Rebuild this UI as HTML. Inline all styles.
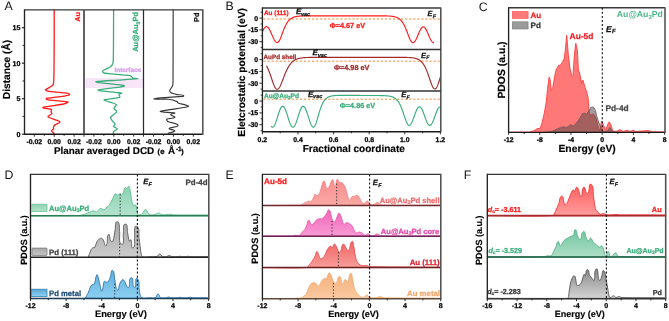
<!DOCTYPE html><html><head><meta charset="utf-8"><style>html,body{margin:0;padding:0;background:#fff;width:669px;height:321px;overflow:hidden}svg{display:block;will-change:transform}text{font-family:"Liberation Sans",sans-serif;text-rendering:geometricPrecision}</style></head><body>
<svg width="669" height="321" viewBox="0 0 669 321">
<rect width="669" height="321" fill="#fff"/>
<text x="4.4" y="10.3" font-size="12.3" font-weight="normal" fill="#111" text-anchor="start" >A</text>
<text x="225.4" y="10.4" font-size="12.3" font-weight="normal" fill="#111" text-anchor="start" >B</text>
<text x="478.7" y="10.6" font-size="12.3" font-weight="normal" fill="#111" text-anchor="start" >C</text>
<text x="4.6" y="178.7" font-size="12.3" font-weight="normal" fill="#111" text-anchor="start" >D</text>
<text x="225.6" y="178.7" font-size="12.3" font-weight="normal" fill="#111" text-anchor="start" >E</text>
<text x="463.8" y="178.7" font-size="12.3" font-weight="normal" fill="#111" text-anchor="start" >F</text>
<rect x="85.2" y="78.0" width="57.6" height="10.0" fill="#f8e5f8"/>
<path d="M54.20,9.50 C54.20,15.60 54.22,33.90 54.20,40.00 C54.18,46.00 54.06,64.00 54.00,70.00 C53.98,72.00 53.89,78.00 53.80,80.00 C53.77,80.80 53.65,83.24 53.40,84.00 C53.24,84.49 52.21,85.69 51.80,86.00 C50.89,86.69 47.88,88.33 46.90,88.90 C46.58,89.09 45.17,89.45 45.30,89.80 C45.49,90.31 47.16,91.02 47.70,91.10 C51.74,91.72 63.98,92.60 68.00,93.30 C68.45,93.38 69.91,94.57 69.60,94.90 C69.03,95.49 66.41,95.68 65.60,95.80 C61.87,96.34 50.62,97.59 46.90,98.20 C46.68,98.24 45.94,98.84 46.10,99.00 C46.46,99.36 48.00,99.73 48.50,99.80 C52.39,100.33 64.14,101.29 68.00,102.00 C68.38,102.07 66.75,102.93 66.40,103.10 C65.92,103.33 64.42,103.91 63.90,104.00 C59.87,104.71 47.73,106.39 43.70,107.10 C43.49,107.14 42.69,107.52 42.80,107.70 C42.99,108.01 44.14,108.33 44.50,108.40 C45.59,108.60 48.92,108.75 50.00,109.00 C50.35,109.08 51.39,109.66 51.50,110.00 C51.63,110.39 50.94,111.59 51.00,112.00 C51.05,112.36 52.20,113.20 52.00,113.50 C51.45,114.33 48.60,115.70 48.00,116.50 C47.83,116.73 48.74,117.39 49.00,117.50 C50.94,118.30 56.98,120.14 58.90,121.00 C59.21,121.14 60.14,122.16 59.90,122.40 C59.12,123.18 55.90,124.27 55.00,124.90 C54.59,125.19 53.68,126.43 53.50,126.90 C53.36,127.27 53.68,128.54 53.50,128.90 C53.25,129.41 51.44,130.34 51.50,130.90 C51.58,131.60 53.56,132.85 54.00,133.40 C54.11,133.54 54.16,134.12 54.20,134.30" fill="none" stroke="#ff1a1a" stroke-width="1.3" stroke-linejoin="round"/>
<path d="M113.60,9.50 C113.58,15.60 113.54,33.90 113.50,40.00 C113.48,44.00 113.42,56.00 113.30,60.00 C113.28,60.75 113.08,63.01 112.80,63.70 C112.51,64.41 111.12,66.34 110.50,66.80 C109.42,67.59 105.65,69.10 104.50,69.80 C104.05,70.07 102.75,71.10 102.60,71.60 C102.51,71.92 103.29,72.79 103.60,72.90 C104.58,73.24 107.67,73.59 108.70,73.70 C112.99,74.15 125.92,75.14 130.20,75.70 C130.54,75.74 131.33,76.48 131.60,76.70 C131.90,76.94 132.64,77.88 133.00,78.00 C133.88,78.29 138.52,78.57 137.60,78.70 C133.73,79.25 122.00,79.83 118.10,80.10 C113.66,80.41 100.32,81.12 95.90,81.60 C95.63,81.63 96.73,82.36 97.00,82.40 C101.88,83.09 116.61,84.56 121.50,85.20 C122.10,85.28 124.58,85.43 124.40,86.00 C124.19,86.67 121.69,86.69 121.00,86.80 C116.45,87.49 102.73,89.19 98.20,90.00 C97.94,90.05 99.04,90.67 99.30,90.70 C103.05,91.19 114.35,92.16 118.10,92.60 C118.81,92.68 121.28,92.66 121.60,93.30 C121.86,93.82 119.05,93.48 118.80,94.00 C118.54,94.54 120.01,96.21 119.90,96.80 C119.83,97.20 118.50,97.63 118.10,97.70 C115.50,98.19 107.61,99.16 105.00,99.60 C104.78,99.64 103.84,99.95 104.00,100.10 C104.39,100.46 105.99,100.84 106.50,101.00 C107.79,101.42 111.72,102.54 113.00,103.00 C113.66,103.24 115.68,104.02 116.20,104.50 C116.39,104.68 116.13,105.57 116.00,105.80 C115.68,106.37 113.93,107.75 114.00,108.40 C114.08,109.16 116.23,110.53 116.60,111.20 C116.72,111.42 116.38,112.22 116.20,112.40 C115.22,113.40 111.86,115.97 110.90,117.00 C110.74,117.18 110.71,117.97 110.80,118.20 C111.01,118.75 111.96,120.23 112.30,120.70 C112.82,121.41 114.90,123.24 115.10,124.10 C115.22,124.62 113.68,125.77 113.60,126.30 C113.56,126.58 114.36,127.15 114.60,127.30 C115.09,127.61 116.79,128.19 117.20,128.60 C117.34,128.74 116.96,129.38 116.80,129.50 C116.21,129.96 114.13,130.87 113.60,131.40 C113.37,131.63 113.33,132.68 113.30,133.00 C113.27,133.26 113.30,134.04 113.30,134.30" fill="none" stroke="#3aad7a" stroke-width="1.3" stroke-linejoin="round"/>
<path d="M173.20,9.50 C173.18,15.60 173.12,33.90 173.10,40.00 C173.08,48.40 173.09,73.60 173.00,82.00 C172.99,82.74 172.87,85.01 172.60,85.70 C172.19,86.76 169.95,89.49 169.70,90.60 C169.59,91.10 170.55,92.56 171.00,92.80 C172.12,93.40 175.86,94.31 177.10,94.60 C178.41,94.91 183.10,94.60 183.70,95.80 C184.21,96.81 179.23,96.49 178.10,96.60 C173.32,97.09 158.81,97.47 154.20,98.80 C151.41,99.60 165.82,98.95 168.70,99.30 C170.43,99.51 175.48,100.96 177.10,101.60 C177.42,101.73 177.78,102.87 178.10,103.00 C180.10,103.80 186.54,105.02 188.40,106.10 C188.94,106.42 186.12,107.19 185.50,107.30 C180.48,108.23 165.28,110.17 160.30,111.30 C159.56,111.47 163.24,112.11 164.00,112.20 C166.15,112.47 172.75,112.39 174.80,113.10 C175.64,113.39 170.60,113.61 170.60,114.50 C170.60,115.52 175.44,116.61 174.80,117.40 C173.77,118.68 168.21,118.36 166.80,119.20 C166.35,119.47 167.34,121.35 167.80,121.60 C169.73,122.64 177.67,123.15 178.10,125.30 C178.47,127.16 170.16,126.96 169.20,128.60 C168.59,129.64 175.05,129.72 174.80,130.90 C174.51,132.27 169.44,132.63 168.20,133.30 C168.02,133.40 168.44,134.10 168.50,134.30" fill="none" stroke="#383838" stroke-width="1.15" stroke-linejoin="round"/>
<line x1="24.5" y1="9.9" x2="202.8" y2="9.9" stroke="#383838" stroke-width="1.4"/>
<line x1="24.5" y1="134.3" x2="202.8" y2="134.3" stroke="#1a1a1a" stroke-width="1.4"/>
<line x1="202.8" y1="9.3" x2="202.8" y2="134.9" stroke="#555" stroke-width="1.6"/>
<line x1="24.5" y1="9.3" x2="24.5" y2="134.9" stroke="#222" stroke-width="1.35"/>
<line x1="84" y1="9.9" x2="84" y2="134.3" stroke="#5a5a5a" stroke-width="1.9" />
<line x1="143.5" y1="9.9" x2="143.5" y2="134.3" stroke="#2a2a2a" stroke-width="1.25" />
<line x1="21.9" y1="134.2" x2="24.5" y2="134.2" stroke="#1a1a1a" stroke-width="1.1" />
<text x="20.5" y="136.5" font-size="7.1" font-weight="bold" fill="#000" text-anchor="end"  stroke="#000" stroke-width="0.25">0</text>
<line x1="21.9" y1="98.69999999999999" x2="24.5" y2="98.69999999999999" stroke="#1a1a1a" stroke-width="1.1" />
<text x="20.5" y="100.99999999999999" font-size="7.1" font-weight="bold" fill="#000" text-anchor="end"  stroke="#000" stroke-width="0.25">5</text>
<line x1="21.9" y1="63.19999999999999" x2="24.5" y2="63.19999999999999" stroke="#1a1a1a" stroke-width="1.1" />
<text x="20.5" y="65.49999999999999" font-size="7.1" font-weight="bold" fill="#000" text-anchor="end"  stroke="#000" stroke-width="0.25">10</text>
<line x1="21.9" y1="27.69999999999999" x2="24.5" y2="27.69999999999999" stroke="#1a1a1a" stroke-width="1.1" />
<text x="20.5" y="29.99999999999999" font-size="7.1" font-weight="bold" fill="#000" text-anchor="end"  stroke="#000" stroke-width="0.25">15</text>
<line x1="22.5" y1="116.44999999999999" x2="24.5" y2="116.44999999999999" stroke="#1a1a1a" stroke-width="0.9" />
<line x1="22.5" y1="80.94999999999999" x2="24.5" y2="80.94999999999999" stroke="#1a1a1a" stroke-width="0.9" />
<line x1="22.5" y1="45.44999999999999" x2="24.5" y2="45.44999999999999" stroke="#1a1a1a" stroke-width="0.9" />
<line x1="84" y1="134.3" x2="84" y2="136.70000000000002" stroke="#1a1a1a" stroke-width="0.9" />
<line x1="143.5" y1="134.3" x2="143.5" y2="136.70000000000002" stroke="#1a1a1a" stroke-width="0.9" />
<line x1="34.300000000000004" y1="134.3" x2="34.300000000000004" y2="136.70000000000002" stroke="#1a1a1a" stroke-width="0.9" />
<line x1="44.25" y1="134.3" x2="44.25" y2="135.9" stroke="#1a1a1a" stroke-width="0.9" />
<line x1="54.2" y1="134.3" x2="54.2" y2="136.70000000000002" stroke="#1a1a1a" stroke-width="0.9" />
<line x1="64.15" y1="134.3" x2="64.15" y2="135.9" stroke="#1a1a1a" stroke-width="0.9" />
<line x1="74.1" y1="134.3" x2="74.1" y2="136.70000000000002" stroke="#1a1a1a" stroke-width="0.9" />
<text x="34.300000000000004" y="143.8" font-size="6.9" font-weight="bold" fill="#000" text-anchor="middle"  stroke="#000" stroke-width="0.25">-0.02</text>
<text x="54.2" y="143.8" font-size="6.9" font-weight="bold" fill="#000" text-anchor="middle"  stroke="#000" stroke-width="0.25">0.00</text>
<text x="74.1" y="143.8" font-size="6.9" font-weight="bold" fill="#000" text-anchor="middle"  stroke="#000" stroke-width="0.25">0.02</text>
<line x1="93.9" y1="134.3" x2="93.9" y2="136.70000000000002" stroke="#1a1a1a" stroke-width="0.9" />
<line x1="103.85" y1="134.3" x2="103.85" y2="135.9" stroke="#1a1a1a" stroke-width="0.9" />
<line x1="113.8" y1="134.3" x2="113.8" y2="136.70000000000002" stroke="#1a1a1a" stroke-width="0.9" />
<line x1="123.75" y1="134.3" x2="123.75" y2="135.9" stroke="#1a1a1a" stroke-width="0.9" />
<line x1="133.7" y1="134.3" x2="133.7" y2="136.70000000000002" stroke="#1a1a1a" stroke-width="0.9" />
<text x="93.9" y="143.8" font-size="6.9" font-weight="bold" fill="#000" text-anchor="middle"  stroke="#000" stroke-width="0.25">-0.02</text>
<text x="113.8" y="143.8" font-size="6.9" font-weight="bold" fill="#000" text-anchor="middle"  stroke="#000" stroke-width="0.25">0.00</text>
<text x="133.7" y="143.8" font-size="6.9" font-weight="bold" fill="#000" text-anchor="middle"  stroke="#000" stroke-width="0.25">0.02</text>
<line x1="153.5" y1="134.3" x2="153.5" y2="136.70000000000002" stroke="#1a1a1a" stroke-width="0.9" />
<line x1="163.45000000000002" y1="134.3" x2="163.45000000000002" y2="135.9" stroke="#1a1a1a" stroke-width="0.9" />
<line x1="173.4" y1="134.3" x2="173.4" y2="136.70000000000002" stroke="#1a1a1a" stroke-width="0.9" />
<line x1="183.35" y1="134.3" x2="183.35" y2="135.9" stroke="#1a1a1a" stroke-width="0.9" />
<line x1="193.3" y1="134.3" x2="193.3" y2="136.70000000000002" stroke="#1a1a1a" stroke-width="0.9" />
<text x="153.5" y="143.8" font-size="6.9" font-weight="bold" fill="#000" text-anchor="middle"  stroke="#000" stroke-width="0.25">-0.02</text>
<text x="173.4" y="143.8" font-size="6.9" font-weight="bold" fill="#000" text-anchor="middle"  stroke="#000" stroke-width="0.25">0.00</text>
<text x="193.3" y="143.8" font-size="6.9" font-weight="bold" fill="#000" text-anchor="middle"  stroke="#000" stroke-width="0.25">0.02</text>
<text x="54.0" y="154.2" font-size="9.85" font-weight="bold" fill="#000" text-anchor="start"  stroke="#000" stroke-width="0.15">Planar averaged DCD</text>
<text x="157.6" y="154.0" font-size="7.2" font-weight="bold" fill="#000" text-anchor="start"  stroke="#000" stroke-width="0.25">(</text>
<text x="160.2" y="154.0" font-size="7.8" font-weight="bold" fill="#000" text-anchor="start"  stroke="#000" stroke-width="0.25">e</text>
<text x="168.0" y="154.2" font-size="9.85" font-weight="bold" fill="#000" text-anchor="start"  stroke="#000" stroke-width="0.15">Å</text>
<text x="175.9" y="150.9" font-size="6.4" font-weight="bold" fill="#000" text-anchor="start"  stroke="#000" stroke-width="0.25">-1</text>
<text x="181.2" y="154.0" font-size="7.2" font-weight="bold" fill="#000" text-anchor="start"  stroke="#000" stroke-width="0.25">)</text>
<text x="10.1" y="69.5" font-size="10.2" font-weight="bold" fill="#000" text-anchor="middle" transform="rotate(-90 10.1 69.5)" stroke="#000" stroke-width="0.15">Distance (Å)</text>
<text x="79.6" y="12.1" font-size="7.2" font-weight="bold" fill="#ff1a1a" text-anchor="end" transform="rotate(-90 79.6 12.1)" stroke="#ff1a1a" stroke-width="0.25">Au</text>
<text x="138.2" y="12.0" font-size="7.5" font-weight="bold" fill="#3aad7a" text-anchor="end" transform="rotate(-90 138.2 12.0)" stroke="#3aad7a" stroke-width="0.25">Au@Au<tspan font-size="5.2" dy="1.6">3</tspan><tspan dy="-1.6">Pd</tspan></text>
<text x="199.4" y="12.7" font-size="7.2" font-weight="bold" fill="#111" text-anchor="end" transform="rotate(-90 199.4 12.7)" stroke="#111" stroke-width="0.25">Pd</text>
<text x="114.5" y="71.8" font-size="6.4" font-weight="bold" fill="#d59be9" text-anchor="start"  stroke="#d59be9" stroke-width="0.25">Interface</text>
<line x1="263.4" y1="19.0" x2="439.8" y2="19.0" stroke="#f8b07a" stroke-width="1.6" stroke-dasharray="2.2 1.85"/>
<line x1="263.4" y1="61.3" x2="439.8" y2="61.3" stroke="#f8b07a" stroke-width="1.6" stroke-dasharray="2.2 1.85"/>
<line x1="263.4" y1="99.3" x2="439.8" y2="99.3" stroke="#f8b07a" stroke-width="1.6" stroke-dasharray="2.2 1.85"/>
<path d="M262.40,31.73 L262.80,30.87 L263.20,30.07 L263.60,29.33 L264.00,28.66 L264.40,28.07 L264.80,27.58 L265.20,27.18 L265.60,26.88 L266.00,26.69 L266.40,26.60 L266.80,26.63 L267.20,26.77 L267.60,27.01 L268.00,27.36 L268.40,27.81 L268.80,28.36 L269.20,28.98 L269.60,29.69 L270.00,30.47 L270.40,31.30 L270.80,32.17 L271.20,33.08 L271.60,34.01 L272.00,34.95 L272.40,35.89 L272.80,36.80 L273.20,37.69 L273.60,38.53 L274.00,39.32 L274.40,40.05 L274.80,40.69 L275.20,41.26 L275.60,41.73 L276.00,42.11 L276.40,42.38 L276.80,42.54 L277.20,42.60 L277.60,42.53 L278.00,42.31 L278.40,41.95 L278.80,41.46 L279.20,40.85 L279.60,40.13 L280.00,39.31 L280.40,38.41 L280.80,37.44 L281.20,36.43 L281.60,35.38 L282.00,34.31 L282.40,33.23 L282.80,32.15 L283.20,31.10 L283.60,30.06 L284.00,29.06 L284.40,28.09 L284.80,27.17 L285.20,26.29 L285.60,25.46 L286.00,24.67 L286.40,23.94 L286.80,23.25 L287.20,22.61 L287.60,22.02 L288.00,21.47 L288.40,20.97 L288.80,20.50 L289.20,20.07 L289.60,19.68 L290.00,19.32 L290.40,18.99 L290.80,18.69 L291.20,18.42 L291.60,18.17 L292.00,17.95 L292.40,17.74 L292.80,17.56 L293.20,17.39 L293.60,17.23 L294.00,17.09 L294.40,16.97 L294.80,16.85 L295.20,16.75 L295.60,16.66 L296.00,16.57 L296.40,16.50 L296.80,16.43 L297.20,16.37 L297.60,16.31 L298.00,16.26 L298.40,16.22 L298.80,16.18 L299.20,16.14 L299.60,16.11 L300.00,16.07 L300.40,16.05 L300.80,16.02 L301.20,16.00 L301.60,15.98 L302.00,15.96 L302.40,15.95 L302.80,15.93 L303.20,15.92 L303.60,15.91 L304.00,15.90 L304.40,15.89 L304.80,15.88 L305.20,15.87 L305.60,15.86 L306.00,15.86 L306.40,15.85 L306.80,15.85 L307.20,15.84 L307.60,15.84 L308.00,15.83 L308.40,15.83 L308.80,15.83 L309.20,15.82 L309.60,15.82 L310.00,15.82 L310.40,15.82 L310.80,15.82 L311.20,15.81 L311.60,15.81 L312.00,15.81 L312.40,15.81 L312.80,15.81 L313.20,15.81 L313.60,15.81 L314.00,15.81 L314.40,15.81 L314.80,15.81 L315.20,15.81 L315.60,15.80 L316.00,15.80 L316.40,15.80 L316.80,15.80 L317.20,15.80 L317.60,15.80 L318.00,15.80 L318.40,15.80 L318.80,15.80 L319.20,15.80 L319.60,15.80 L320.00,15.80 L320.40,15.80 L320.80,15.80 L321.20,15.80 L321.60,15.80 L322.00,15.80 L322.40,15.80 L322.80,15.80 L323.20,15.80 L323.60,15.80 L324.00,15.80 L324.40,15.80 L324.80,15.80 L325.20,15.80 L325.60,15.80 L326.00,15.80 L326.40,15.80 L326.80,15.80 L327.20,15.80 L327.60,15.80 L328.00,15.80 L328.40,15.80 L328.80,15.80 L329.20,15.80 L329.60,15.80 L330.00,15.80 L330.40,15.80 L330.80,15.80 L331.20,15.80 L331.60,15.80 L332.00,15.80 L332.40,15.80 L332.80,15.80 L333.20,15.80 L333.60,15.80 L334.00,15.80 L334.40,15.80 L334.80,15.80 L335.20,15.80 L335.60,15.80 L336.00,15.80 L336.40,15.80 L336.80,15.80 L337.20,15.80 L337.60,15.80 L338.00,15.80 L338.40,15.80 L338.80,15.80 L339.20,15.80 L339.60,15.80 L340.00,15.80 L340.40,15.80 L340.80,15.80 L341.20,15.80 L341.60,15.80 L342.00,15.80 L342.40,15.80 L342.80,15.80 L343.20,15.80 L343.60,15.80 L344.00,15.80 L344.40,15.80 L344.80,15.80 L345.20,15.80 L345.60,15.80 L346.00,15.80 L346.40,15.80 L346.80,15.80 L347.20,15.80 L347.60,15.80 L348.00,15.80 L348.40,15.80 L348.80,15.80 L349.20,15.80 L349.60,15.80 L350.00,15.80 L350.40,15.80 L350.80,15.80 L351.20,15.80 L351.60,15.80 L352.00,15.80 L352.40,15.80 L352.80,15.80 L353.20,15.80 L353.60,15.80 L354.00,15.80 L354.40,15.80 L354.80,15.80 L355.20,15.80 L355.60,15.80 L356.00,15.80 L356.40,15.80 L356.80,15.80 L357.20,15.80 L357.60,15.80 L358.00,15.80 L358.40,15.80 L358.80,15.80 L359.20,15.80 L359.60,15.80 L360.00,15.80 L360.40,15.80 L360.80,15.80 L361.20,15.80 L361.60,15.80 L362.00,15.80 L362.40,15.80 L362.80,15.80 L363.20,15.80 L363.60,15.80 L364.00,15.80 L364.40,15.80 L364.80,15.80 L365.20,15.80 L365.60,15.80 L366.00,15.80 L366.40,15.80 L366.80,15.80 L367.20,15.80 L367.60,15.80 L368.00,15.80 L368.40,15.80 L368.80,15.80 L369.20,15.80 L369.60,15.80 L370.00,15.80 L370.40,15.80 L370.80,15.80 L371.20,15.80 L371.60,15.80 L372.00,15.80 L372.40,15.80 L372.80,15.80 L373.20,15.80 L373.60,15.80 L374.00,15.81 L374.40,15.81 L374.80,15.81 L375.20,15.81 L375.60,15.81 L376.00,15.81 L376.40,15.81 L376.80,15.81 L377.20,15.81 L377.60,15.81 L378.00,15.81 L378.40,15.82 L378.80,15.82 L379.20,15.82 L379.60,15.82 L380.00,15.82 L380.40,15.83 L380.80,15.83 L381.20,15.83 L381.60,15.84 L382.00,15.84 L382.40,15.84 L382.80,15.85 L383.20,15.85 L383.60,15.86 L384.00,15.87 L384.40,15.87 L384.80,15.88 L385.20,15.89 L385.60,15.90 L386.00,15.91 L386.40,15.92 L386.80,15.93 L387.20,15.95 L387.60,15.96 L388.00,15.98 L388.40,16.00 L388.80,16.02 L389.20,16.05 L389.60,16.07 L390.00,16.10 L390.40,16.13 L390.80,16.17 L391.20,16.21 L391.60,16.25 L392.00,16.30 L392.40,16.36 L392.80,16.41 L393.20,16.48 L393.60,16.55 L394.00,16.63 L394.40,16.72 L394.80,16.82 L395.20,16.93 L395.60,17.04 L396.00,17.18 L396.40,17.32 L396.80,17.48 L397.20,17.65 L397.60,17.85 L398.00,18.06 L398.40,18.29 L398.80,18.55 L399.20,18.82 L399.60,19.13 L400.00,19.47 L400.40,19.83 L400.80,20.23 L401.20,20.66 L401.60,21.13 L402.00,21.64 L402.40,22.19 L402.80,22.79 L403.20,23.43 L403.60,24.11 L404.00,24.84 L404.40,25.62 L404.80,26.45 L405.20,27.32 L405.60,28.23 L406.00,29.19 L406.40,30.18 L406.80,31.20 L407.20,32.24 L407.60,33.30 L408.00,34.36 L408.40,35.41 L408.80,36.45 L409.20,37.45 L409.60,38.41 L410.00,39.30 L410.40,40.12 L410.80,40.84 L411.20,41.46 L411.60,41.97 L412.00,42.35 L412.40,42.59 L412.80,42.70 L413.20,42.67 L413.60,42.52 L414.00,42.27 L414.40,41.90 L414.80,41.43 L415.20,40.87 L415.60,40.21 L416.00,39.48 L416.40,38.68 L416.80,37.82 L417.20,36.92 L417.60,35.99 L418.00,35.04 L418.40,34.09 L418.80,33.14 L419.20,32.22 L419.60,31.34 L420.00,30.51 L420.40,29.74 L420.80,29.05 L421.20,28.44 L421.60,27.92 L422.00,27.50 L422.40,27.19 L422.80,26.99 L423.20,26.90 L423.60,26.93 L424.00,27.08 L424.40,27.33 L424.80,27.70 L425.20,28.17 L425.60,28.73 L426.00,29.39 L426.40,30.12 L426.80,30.92 L427.20,31.78 L427.60,32.68 L428.00,33.61 L428.40,34.56 L428.80,35.51 L429.20,36.46 L429.60,37.38 L430.00,38.26 L430.40,39.09 L430.80,39.86 L431.20,40.55 L431.60,41.16 L432.00,41.68 L432.40,42.10 L432.80,42.41 L433.20,42.61 L433.60,42.70 L434.00,42.67" fill="none" stroke="#ff1a1a" stroke-width="1.15" stroke-linejoin="round"/>
<path d="M266.50,65.87 L266.90,66.60 L267.30,67.38 L267.70,68.21 L268.10,69.09 L268.50,70.02 L268.90,70.99 L269.30,72.01 L269.70,73.08 L270.10,74.18 L270.50,75.31 L270.90,76.47 L271.30,77.65 L271.70,78.84 L272.10,80.02 L272.50,81.19 L272.90,82.34 L273.30,83.44 L273.70,84.49 L274.10,85.47 L274.50,86.36 L274.90,87.16 L275.31,87.85 L275.71,88.41 L276.11,88.84 L276.51,89.14 L276.91,89.28 L277.31,89.28 L277.71,89.17 L278.11,88.93 L278.51,88.58 L278.91,88.13 L279.31,87.57 L279.71,86.93 L280.11,86.19 L280.51,85.38 L280.91,84.51 L281.31,83.58 L281.71,82.61 L282.11,81.60 L282.51,80.56 L282.91,79.51 L283.31,78.46 L283.71,77.40 L284.11,76.36 L284.51,75.33 L284.91,74.32 L285.31,73.33 L285.71,72.37 L286.11,71.45 L286.51,70.56 L286.91,69.71 L287.31,68.90 L287.71,68.12 L288.11,67.38 L288.51,66.69 L288.91,66.03 L289.31,65.41 L289.71,64.83 L290.11,64.28 L290.51,63.77 L290.91,63.29 L291.31,62.84 L291.71,62.42 L292.11,62.03 L292.51,61.67 L292.92,61.34 L293.32,61.03 L293.72,60.74 L294.12,60.47 L294.52,60.22 L294.92,59.99 L295.32,59.78 L295.72,59.58 L296.12,59.40 L296.52,59.23 L296.92,59.08 L297.32,58.94 L297.72,58.80 L298.12,58.68 L298.52,58.57 L298.92,58.47 L299.32,58.37 L299.72,58.29 L300.12,58.21 L300.52,58.13 L300.92,58.07 L301.32,58.00 L301.72,57.95 L302.12,57.89 L302.52,57.85 L302.92,57.80 L303.32,57.76 L303.72,57.72 L304.12,57.69 L304.52,57.66 L304.92,57.63 L305.32,57.60 L305.72,57.58 L306.12,57.55 L306.52,57.53 L306.92,57.51 L307.32,57.50 L307.72,57.48 L308.12,57.47 L308.52,57.45 L308.92,57.44 L309.32,57.43 L309.72,57.42 L310.13,57.41 L310.53,57.40 L310.93,57.39 L311.33,57.38 L311.73,57.38 L312.13,57.37 L312.53,57.36 L312.93,57.36 L313.33,57.35 L313.73,57.35 L314.13,57.35 L314.53,57.34 L314.93,57.34 L315.33,57.34 L315.73,57.33 L316.13,57.33 L316.53,57.33 L316.93,57.33 L317.33,57.32 L317.73,57.32 L318.13,57.32 L318.53,57.32 L318.93,57.32 L319.33,57.31 L319.73,57.31 L320.13,57.31 L320.53,57.31 L320.93,57.31 L321.33,57.31 L321.73,57.31 L322.13,57.31 L322.53,57.31 L322.93,57.31 L323.33,57.31 L323.73,57.31 L324.13,57.31 L324.53,57.30 L324.93,57.30 L325.33,57.30 L325.73,57.30 L326.13,57.30 L326.53,57.30 L326.93,57.30 L327.33,57.30 L327.74,57.30 L328.14,57.30 L328.54,57.30 L328.94,57.30 L329.34,57.30 L329.74,57.30 L330.14,57.30 L330.54,57.30 L330.94,57.30 L331.34,57.30 L331.74,57.30 L332.14,57.30 L332.54,57.30 L332.94,57.30 L333.34,57.30 L333.74,57.30 L334.14,57.30 L334.54,57.30 L334.94,57.30 L335.34,57.30 L335.74,57.30 L336.14,57.30 L336.54,57.30 L336.94,57.30 L337.34,57.30 L337.74,57.30 L338.14,57.30 L338.54,57.30 L338.94,57.30 L339.34,57.30 L339.74,57.30 L340.14,57.30 L340.54,57.30 L340.94,57.30 L341.34,57.30 L341.74,57.30 L342.14,57.30 L342.54,57.30 L342.94,57.30 L343.34,57.30 L343.74,57.30 L344.14,57.30 L344.54,57.30 L344.95,57.30 L345.35,57.30 L345.75,57.30 L346.15,57.30 L346.55,57.30 L346.95,57.30 L347.35,57.30 L347.75,57.30 L348.15,57.30 L348.55,57.30 L348.95,57.30 L349.35,57.30 L349.75,57.30 L350.15,57.30 L350.55,57.30 L350.95,57.30 L351.35,57.30 L351.75,57.30 L352.15,57.30 L352.55,57.30 L352.95,57.30 L353.35,57.30 L353.75,57.30 L354.15,57.30 L354.55,57.30 L354.95,57.30 L355.35,57.30 L355.75,57.30 L356.15,57.30 L356.55,57.30 L356.95,57.30 L357.35,57.30 L357.75,57.30 L358.15,57.30 L358.55,57.30 L358.95,57.30 L359.35,57.30 L359.75,57.30 L360.15,57.30 L360.55,57.30 L360.95,57.30 L361.35,57.30 L361.75,57.30 L362.15,57.30 L362.56,57.30 L362.96,57.30 L363.36,57.30 L363.76,57.30 L364.16,57.30 L364.56,57.30 L364.96,57.30 L365.36,57.30 L365.76,57.30 L366.16,57.30 L366.56,57.30 L366.96,57.30 L367.36,57.30 L367.76,57.30 L368.16,57.30 L368.56,57.30 L368.96,57.30 L369.36,57.30 L369.76,57.30 L370.16,57.30 L370.56,57.30 L370.96,57.30 L371.36,57.30 L371.76,57.30 L372.16,57.30 L372.56,57.30 L372.96,57.30 L373.36,57.30 L373.76,57.30 L374.16,57.30 L374.56,57.30 L374.96,57.30 L375.36,57.30 L375.76,57.30 L376.16,57.30 L376.56,57.30 L376.96,57.30 L377.36,57.30 L377.76,57.30 L378.16,57.30 L378.56,57.30 L378.96,57.30 L379.36,57.30 L379.77,57.30 L380.17,57.30 L380.57,57.30 L380.97,57.30 L381.37,57.30 L381.77,57.30 L382.17,57.30 L382.57,57.30 L382.97,57.30 L383.37,57.30 L383.77,57.30 L384.17,57.30 L384.57,57.30 L384.97,57.30 L385.37,57.30 L385.77,57.30 L386.17,57.30 L386.57,57.30 L386.97,57.30 L387.37,57.30 L387.77,57.30 L388.17,57.30 L388.57,57.30 L388.97,57.30 L389.37,57.30 L389.77,57.30 L390.17,57.30 L390.57,57.30 L390.97,57.30 L391.37,57.30 L391.77,57.30 L392.17,57.30 L392.57,57.30 L392.97,57.30 L393.37,57.31 L393.77,57.31 L394.17,57.31 L394.57,57.31 L394.97,57.31 L395.37,57.31 L395.77,57.31 L396.17,57.31 L396.57,57.31 L396.97,57.31 L397.38,57.31 L397.78,57.31 L398.18,57.32 L398.58,57.32 L398.98,57.32 L399.38,57.32 L399.78,57.32 L400.18,57.33 L400.58,57.33 L400.98,57.33 L401.38,57.34 L401.78,57.34 L402.18,57.34 L402.58,57.35 L402.98,57.35 L403.38,57.36 L403.78,57.36 L404.18,57.37 L404.58,57.38 L404.98,57.39 L405.38,57.39 L405.78,57.40 L406.18,57.41 L406.58,57.43 L406.98,57.44 L407.38,57.45 L407.78,57.47 L408.18,57.49 L408.58,57.51 L408.98,57.53 L409.38,57.55 L409.78,57.58 L410.18,57.60 L410.58,57.63 L410.98,57.67 L411.38,57.71 L411.78,57.75 L412.18,57.79 L412.58,57.84 L412.98,57.90 L413.38,57.96 L413.78,58.03 L414.18,58.10 L414.59,58.18 L414.99,58.27 L415.39,58.37 L415.79,58.48 L416.19,58.59 L416.59,58.72 L416.99,58.87 L417.39,59.02 L417.79,59.19 L418.19,59.38 L418.59,59.59 L418.99,59.81 L419.39,60.06 L419.79,60.33 L420.19,60.62 L420.59,60.94 L420.99,61.29 L421.39,61.67 L421.79,62.08 L422.19,62.53 L422.59,63.02 L422.99,63.54 L423.39,64.11 L423.79,64.72 L424.19,65.38 L424.59,66.08 L424.99,66.83 L425.39,67.64 L425.79,68.49 L426.19,69.39 L426.59,70.35 L426.99,71.35 L427.39,72.39 L427.79,73.48 L428.19,74.60 L428.59,75.75 L428.99,76.93 L429.39,78.12 L429.79,79.31 L430.19,80.49 L430.59,81.65 L430.99,82.77 L431.39,83.85 L431.79,84.86 L432.20,85.79 L432.60,86.62 L433.00,87.35 L433.40,87.96 L433.80,88.43 L434.20,88.77 L434.60,88.96 L435.00,88.99 L435.40,88.87 L435.80,88.57 L436.20,88.12 L436.60,87.51 L437.00,86.76 L437.40,85.88 L437.80,84.90 L438.20,83.83 L438.60,82.68 L439.00,81.48 L439.40,80.24 L439.80,78.97 L440.20,77.71 L440.60,76.45" fill="none" stroke="#a32a2a" stroke-width="1.15" stroke-linejoin="round"/>
<path d="M271.00,126.18 L271.40,126.66 L271.80,126.99 L272.20,127.17 L272.60,127.19 L273.00,127.05 L273.40,126.76 L273.80,126.32 L274.20,125.73 L274.60,125.01 L275.00,124.17 L275.40,123.21 L275.80,122.16 L276.20,121.02 L276.60,119.83 L277.00,118.58 L277.40,117.31 L277.80,116.03 L278.20,114.76 L278.60,113.52 L279.00,112.33 L279.40,111.20 L279.80,110.16 L280.20,109.22 L280.60,108.39 L281.00,107.69 L281.40,107.12 L281.80,106.70 L282.20,106.42 L282.60,106.30 L283.00,106.34 L283.40,106.54 L283.80,106.89 L284.20,107.39 L284.60,108.02 L285.00,108.79 L285.40,109.68 L285.80,110.67 L286.20,111.76 L286.60,112.92 L287.00,114.14 L287.40,115.39 L287.80,116.67 L288.20,117.95 L288.60,119.21 L289.00,120.43 L289.40,121.60 L289.80,122.70 L290.20,123.70 L290.60,124.60 L291.00,125.39 L291.40,126.04 L291.80,126.56 L292.20,126.93 L292.60,127.14 L293.00,127.20 L293.40,127.10 L293.80,126.85 L294.20,126.44 L294.60,125.89 L295.00,125.20 L295.40,124.39 L295.80,123.46 L296.20,122.43 L296.60,121.31 L297.00,120.13 L297.40,118.90 L297.80,117.63 L298.20,116.35 L298.60,115.08 L299.00,113.83 L299.40,112.62 L299.80,111.48 L300.20,110.41 L300.60,109.45 L301.00,108.59 L301.40,107.85 L301.80,107.25 L302.20,106.79 L302.60,106.48 L303.00,106.32 L303.40,106.32 L303.80,106.48 L304.20,106.79 L304.60,107.25 L305.00,107.85 L305.40,108.59 L305.80,109.45 L306.20,110.41 L306.60,111.48 L307.00,112.62 L307.40,113.83 L307.80,115.08 L308.20,116.35 L308.60,117.63 L309.00,118.90 L309.40,120.13 L309.80,121.31 L310.20,122.43 L310.60,123.46 L311.00,124.39 L311.40,125.20 L311.80,125.89 L312.20,126.44 L312.60,126.85 L313.00,127.10 L313.40,127.20 L313.80,127.10 L314.20,126.79 L314.60,126.29 L315.00,125.60 L315.40,124.75 L315.80,123.75 L316.20,122.63 L316.60,121.41 L317.00,120.11 L317.40,118.75 L317.80,117.37 L318.20,115.97 L318.60,114.58 L319.00,113.21 L319.40,111.89 L319.80,110.60 L320.20,109.38 L320.60,108.21 L321.00,107.11 L321.40,106.08 L321.80,105.11 L322.20,104.22 L322.60,103.39 L323.00,102.63 L323.40,101.93 L323.80,101.28 L324.20,100.70 L324.60,100.16 L325.00,99.68 L325.40,99.24 L325.80,98.84 L326.20,98.48 L326.60,98.15 L327.00,97.86 L327.40,97.59 L327.80,97.35 L328.20,97.14 L328.60,96.95 L329.00,96.77 L329.40,96.62 L329.80,96.48 L330.20,96.35 L330.60,96.24 L331.00,96.14 L331.40,96.05 L331.80,95.97 L332.20,95.90 L332.60,95.84 L333.00,95.78 L333.40,95.73 L333.80,95.68 L334.20,95.64 L334.60,95.61 L335.00,95.57 L335.40,95.54 L335.80,95.52 L336.20,95.49 L336.60,95.47 L337.00,95.45 L337.40,95.44 L337.80,95.42 L338.20,95.41 L338.60,95.40 L339.00,95.39 L339.40,95.38 L339.80,95.37 L340.20,95.36 L340.60,95.36 L341.00,95.35 L341.40,95.34 L341.80,95.34 L342.20,95.34 L342.60,95.33 L343.00,95.33 L343.40,95.33 L343.80,95.32 L344.20,95.32 L344.60,95.32 L345.00,95.32 L345.40,95.31 L345.80,95.31 L346.20,95.31 L346.60,95.31 L347.00,95.31 L347.40,95.31 L347.80,95.31 L348.20,95.31 L348.60,95.31 L349.00,95.31 L349.40,95.30 L349.80,95.30 L350.20,95.30 L350.60,95.30 L351.00,95.30 L351.40,95.30 L351.80,95.30 L352.20,95.30 L352.60,95.30 L353.00,95.30 L353.40,95.30 L353.80,95.30 L354.20,95.30 L354.60,95.30 L355.00,95.30 L355.40,95.30 L355.80,95.30 L356.20,95.30 L356.60,95.30 L357.00,95.30 L357.40,95.30 L357.80,95.30 L358.20,95.30 L358.60,95.30 L359.00,95.30 L359.40,95.30 L359.80,95.30 L360.20,95.50 L360.60,95.50 L361.00,95.50 L361.40,95.50 L361.80,95.50 L362.20,95.50 L362.60,95.50 L363.00,95.50 L363.40,95.50 L363.80,95.50 L364.20,95.50 L364.60,95.50 L365.00,95.50 L365.40,95.50 L365.80,95.50 L366.20,95.50 L366.60,95.50 L367.00,95.50 L367.40,95.50 L367.80,95.50 L368.20,95.50 L368.60,95.50 L369.00,95.50 L369.40,95.50 L369.80,95.50 L370.20,95.50 L370.60,95.50 L371.00,95.51 L371.40,95.51 L371.80,95.51 L372.20,95.51 L372.60,95.51 L373.00,95.51 L373.40,95.51 L373.80,95.51 L374.20,95.51 L374.60,95.51 L375.00,95.51 L375.40,95.52 L375.80,95.52 L376.20,95.52 L376.60,95.52 L377.00,95.52 L377.40,95.53 L377.80,95.53 L378.20,95.53 L378.60,95.54 L379.00,95.54 L379.40,95.55 L379.80,95.55 L380.20,95.56 L380.60,95.56 L381.00,95.57 L381.40,95.58 L381.80,95.59 L382.20,95.60 L382.60,95.61 L383.00,95.62 L383.40,95.63 L383.80,95.65 L384.20,95.66 L384.60,95.68 L385.00,95.70 L385.40,95.73 L385.80,95.75 L386.20,95.78 L386.60,95.81 L387.00,95.84 L387.40,95.88 L387.80,95.92 L388.20,95.97 L388.60,96.02 L389.00,96.08 L389.40,96.15 L389.80,96.22 L390.20,96.30 L390.60,96.38 L391.00,96.48 L391.40,96.59 L391.80,96.71 L392.20,96.84 L392.60,96.98 L393.00,97.14 L393.40,97.32 L393.80,97.52 L394.20,97.73 L394.60,97.97 L395.00,98.24 L395.40,98.53 L395.80,98.84 L396.20,99.19 L396.60,99.58 L397.00,100.00 L397.40,100.45 L397.80,100.96 L398.20,101.50 L398.60,102.09 L399.00,102.73 L399.40,103.42 L399.80,104.17 L400.20,104.97 L400.60,105.83 L401.00,106.74 L401.40,107.71 L401.80,108.73 L402.20,109.80 L402.60,110.91 L403.00,112.06 L403.40,113.25 L403.80,114.45 L404.20,115.67 L404.60,116.88 L405.00,118.08 L405.40,119.24 L405.80,120.36 L406.20,121.40 L406.60,122.35 L407.00,123.21 L407.40,123.94 L407.80,124.53 L408.20,124.98 L408.60,125.27 L409.00,125.39 L409.40,125.36 L409.80,125.19 L410.20,124.89 L410.60,124.45 L411.00,123.90 L411.40,123.22 L411.80,122.45 L412.20,121.58 L412.60,120.63 L413.00,119.61 L413.40,118.54 L413.80,117.44 L414.20,116.31 L414.60,115.18 L415.00,114.07 L415.40,112.99 L415.80,111.95 L416.20,110.97 L416.60,110.07 L417.00,109.26 L417.40,108.54 L417.80,107.94 L418.20,107.46 L418.60,107.11 L419.00,106.89 L419.40,106.80 L419.80,106.85 L420.20,107.04 L420.60,107.36 L421.00,107.81 L421.40,108.38 L421.80,109.07 L422.20,109.86 L422.60,110.74 L423.00,111.70 L423.40,112.72 L423.80,113.80 L424.20,114.90 L424.60,116.03 L425.00,117.16 L425.40,118.27 L425.80,119.35 L426.20,120.38 L426.60,121.35 L427.00,122.24 L427.40,123.04 L427.80,123.74 L428.20,124.32 L428.60,124.79 L429.00,125.13 L429.40,125.33 L429.80,125.40 L430.20,125.33 L430.60,125.13 L431.00,124.79 L431.40,124.32 L431.80,123.74 L432.20,123.04 L432.60,122.24 L433.00,121.35 L433.40,120.38 L433.80,119.35 L434.20,118.27 L434.60,117.16 L435.00,116.03 L435.40,114.90 L435.80,113.80 L436.20,112.72 L436.60,111.70 L437.00,110.74 L437.40,109.86 L437.80,109.07 L438.20,108.38 L438.60,107.81 L439.00,107.36 L439.40,107.04 L439.80,106.85" fill="none" stroke="#3aad7a" stroke-width="1.15" stroke-linejoin="round"/>
<line x1="262.4" y1="8.0" x2="440.8" y2="8.0" stroke="#383838" stroke-width="1.4"/>
<line x1="262.4" y1="131.7" x2="440.8" y2="131.7" stroke="#1a1a1a" stroke-width="1.4"/>
<line x1="440.8" y1="7.4" x2="440.8" y2="132.29999999999998" stroke="#555" stroke-width="1.6"/>
<line x1="262.4" y1="7.4" x2="262.4" y2="132.29999999999998" stroke="#222" stroke-width="1.35"/>
<line x1="262.4" y1="49.5" x2="440.8" y2="49.5" stroke="#333" stroke-width="1.3" />
<line x1="262.4" y1="91.0" x2="440.8" y2="91.0" stroke="#333" stroke-width="1.3" />
<line x1="259.4" y1="18.1" x2="262.4" y2="18.1" stroke="#1a1a1a" stroke-width="0.9" />
<text x="258.09999999999997" y="20.5" font-size="6.9" font-weight="bold" fill="#000" text-anchor="end"  stroke="#000" stroke-width="0.25">0</text>
<line x1="259.4" y1="29.900000000000002" x2="262.4" y2="29.900000000000002" stroke="#1a1a1a" stroke-width="0.9" />
<text x="258.09999999999997" y="32.300000000000004" font-size="6.9" font-weight="bold" fill="#000" text-anchor="end"  stroke="#000" stroke-width="0.25">-15</text>
<line x1="259.4" y1="41.7" x2="262.4" y2="41.7" stroke="#1a1a1a" stroke-width="0.9" />
<text x="258.09999999999997" y="44.1" font-size="6.9" font-weight="bold" fill="#000" text-anchor="end"  stroke="#000" stroke-width="0.25">-30</text>
<line x1="260.59999999999997" y1="12.200000000000001" x2="262.4" y2="12.200000000000001" stroke="#1a1a1a" stroke-width="0.8" />
<line x1="260.59999999999997" y1="24.0" x2="262.4" y2="24.0" stroke="#1a1a1a" stroke-width="0.8" />
<line x1="260.59999999999997" y1="35.800000000000004" x2="262.4" y2="35.800000000000004" stroke="#1a1a1a" stroke-width="0.8" />
<line x1="260.59999999999997" y1="47.60000000000001" x2="262.4" y2="47.60000000000001" stroke="#1a1a1a" stroke-width="0.8" />
<line x1="259.4" y1="59.6" x2="262.4" y2="59.6" stroke="#1a1a1a" stroke-width="0.9" />
<text x="258.09999999999997" y="62.0" font-size="6.9" font-weight="bold" fill="#000" text-anchor="end"  stroke="#000" stroke-width="0.25">0</text>
<line x1="259.4" y1="71.4" x2="262.4" y2="71.4" stroke="#1a1a1a" stroke-width="0.9" />
<text x="258.09999999999997" y="73.80000000000001" font-size="6.9" font-weight="bold" fill="#000" text-anchor="end"  stroke="#000" stroke-width="0.25">-15</text>
<line x1="259.4" y1="83.2" x2="262.4" y2="83.2" stroke="#1a1a1a" stroke-width="0.9" />
<text x="258.09999999999997" y="85.60000000000001" font-size="6.9" font-weight="bold" fill="#000" text-anchor="end"  stroke="#000" stroke-width="0.25">-30</text>
<line x1="260.59999999999997" y1="53.7" x2="262.4" y2="53.7" stroke="#1a1a1a" stroke-width="0.8" />
<line x1="260.59999999999997" y1="65.5" x2="262.4" y2="65.5" stroke="#1a1a1a" stroke-width="0.8" />
<line x1="260.59999999999997" y1="77.30000000000001" x2="262.4" y2="77.30000000000001" stroke="#1a1a1a" stroke-width="0.8" />
<line x1="260.59999999999997" y1="89.10000000000001" x2="262.4" y2="89.10000000000001" stroke="#1a1a1a" stroke-width="0.8" />
<line x1="259.4" y1="101.1" x2="262.4" y2="101.1" stroke="#1a1a1a" stroke-width="0.9" />
<text x="258.09999999999997" y="103.5" font-size="6.9" font-weight="bold" fill="#000" text-anchor="end"  stroke="#000" stroke-width="0.25">0</text>
<line x1="259.4" y1="112.89999999999999" x2="262.4" y2="112.89999999999999" stroke="#1a1a1a" stroke-width="0.9" />
<text x="258.09999999999997" y="115.3" font-size="6.9" font-weight="bold" fill="#000" text-anchor="end"  stroke="#000" stroke-width="0.25">-15</text>
<line x1="259.4" y1="124.69999999999999" x2="262.4" y2="124.69999999999999" stroke="#1a1a1a" stroke-width="0.9" />
<text x="258.09999999999997" y="127.1" font-size="6.9" font-weight="bold" fill="#000" text-anchor="end"  stroke="#000" stroke-width="0.25">-30</text>
<line x1="260.59999999999997" y1="95.19999999999999" x2="262.4" y2="95.19999999999999" stroke="#1a1a1a" stroke-width="0.8" />
<line x1="260.59999999999997" y1="106.99999999999999" x2="262.4" y2="106.99999999999999" stroke="#1a1a1a" stroke-width="0.8" />
<line x1="260.59999999999997" y1="118.79999999999998" x2="262.4" y2="118.79999999999998" stroke="#1a1a1a" stroke-width="0.8" />
<line x1="260.59999999999997" y1="130.6" x2="262.4" y2="130.6" stroke="#1a1a1a" stroke-width="0.8" />
<line x1="262.4" y1="131.7" x2="262.4" y2="134.29999999999998" stroke="#1a1a1a" stroke-width="0.9" />
<line x1="280.2" y1="131.7" x2="280.2" y2="133.29999999999998" stroke="#1a1a1a" stroke-width="0.9" />
<line x1="298.0" y1="131.7" x2="298.0" y2="134.29999999999998" stroke="#1a1a1a" stroke-width="0.9" />
<line x1="315.79999999999995" y1="131.7" x2="315.79999999999995" y2="133.29999999999998" stroke="#1a1a1a" stroke-width="0.9" />
<line x1="333.59999999999997" y1="131.7" x2="333.59999999999997" y2="134.29999999999998" stroke="#1a1a1a" stroke-width="0.9" />
<line x1="351.4" y1="131.7" x2="351.4" y2="133.29999999999998" stroke="#1a1a1a" stroke-width="0.9" />
<line x1="369.2" y1="131.7" x2="369.2" y2="134.29999999999998" stroke="#1a1a1a" stroke-width="0.9" />
<line x1="387.0" y1="131.7" x2="387.0" y2="133.29999999999998" stroke="#1a1a1a" stroke-width="0.9" />
<line x1="404.79999999999995" y1="131.7" x2="404.79999999999995" y2="134.29999999999998" stroke="#1a1a1a" stroke-width="0.9" />
<line x1="422.6" y1="131.7" x2="422.6" y2="133.29999999999998" stroke="#1a1a1a" stroke-width="0.9" />
<line x1="440.4" y1="131.7" x2="440.4" y2="134.29999999999998" stroke="#1a1a1a" stroke-width="0.9" />
<text x="262.4" y="141.6" font-size="6.9" font-weight="bold" fill="#000" text-anchor="middle"  stroke="#000" stroke-width="0.25">0.2</text>
<text x="298.0" y="141.6" font-size="6.9" font-weight="bold" fill="#000" text-anchor="middle"  stroke="#000" stroke-width="0.25">0.4</text>
<text x="333.59999999999997" y="141.6" font-size="6.9" font-weight="bold" fill="#000" text-anchor="middle"  stroke="#000" stroke-width="0.25">0.6</text>
<text x="369.2" y="141.6" font-size="6.9" font-weight="bold" fill="#000" text-anchor="middle"  stroke="#000" stroke-width="0.25">0.8</text>
<text x="404.79999999999995" y="141.6" font-size="6.9" font-weight="bold" fill="#000" text-anchor="middle"  stroke="#000" stroke-width="0.25">1.0</text>
<text x="440.4" y="141.6" font-size="6.9" font-weight="bold" fill="#000" text-anchor="middle"  stroke="#000" stroke-width="0.25">1.2</text>
<text x="302.7" y="151.6" font-size="10.05" font-weight="bold" fill="#000" text-anchor="start"  stroke="#000" stroke-width="0.15">Fractional coordinate</text>
<text x="244.7" y="72.4" font-size="10.2" font-weight="bold" fill="#000" text-anchor="middle" transform="rotate(-90 244.7 72.4)" stroke="#000" stroke-width="0.15">Eletcrostatic potential (eV)</text>
<text x="264" y="15.0" font-size="6.4" font-weight="bold" fill="#ff1a1a" text-anchor="start"  stroke="#ff1a1a" stroke-width="0.25">Au (111)</text>
<text x="263.5" y="58.7" font-size="6.35" font-weight="bold" fill="#a32a2a" text-anchor="start"  stroke="#a32a2a" stroke-width="0.25">AuPd shell</text>
<text x="264" y="97.5" font-size="6.6" font-weight="bold" fill="#3aad7a" stroke="#3aad7a" stroke-width="0.25">Au@Au<tspan font-size="4.6" dy="1.2">3</tspan><tspan dy="-1.2">Pd</tspan></text>
<text x="295.9" y="13.9" font-size="7.9" font-weight="bold" font-style="italic" fill="#111" stroke="#111" stroke-width="0.25">E<tspan font-size="5.53" dx="-0.2" dy="1.74">vac</tspan></text>
<text x="312.6" y="55.4" font-size="7.9" font-weight="bold" font-style="italic" fill="#111" stroke="#111" stroke-width="0.25">E<tspan font-size="5.53" dx="-0.2" dy="1.74">vac</tspan></text>
<text x="308.0" y="96.6" font-size="7.9" font-weight="bold" font-style="italic" fill="#111" stroke="#111" stroke-width="0.25">E<tspan font-size="5.53" dx="-0.2" dy="1.74">vac</tspan></text>
<text x="427.6" y="16.1" font-size="7.4" font-weight="bold" font-style="italic" fill="#111" stroke="#111" stroke-width="0.25">E<tspan font-size="5.18" dx="0.3" dy="1.63">F</tspan></text>
<text x="421.0" y="57.6" font-size="7.4" font-weight="bold" font-style="italic" fill="#111" stroke="#111" stroke-width="0.25">E<tspan font-size="5.18" dx="0.3" dy="1.63">F</tspan></text>
<text x="401.2" y="97.1" font-size="7.4" font-weight="bold" font-style="italic" fill="#111" stroke="#111" stroke-width="0.25">E<tspan font-size="5.18" dx="0.3" dy="1.63">F</tspan></text>
<text x="329.7" y="28.3" font-size="7.3" font-weight="bold" fill="#ff1a1a" text-anchor="start"  stroke="#ff1a1a" stroke-width="0.25">Φ=4.67 eV</text>
<text x="334.0" y="70.1" font-size="7.3" font-weight="bold" fill="#a32a2a" text-anchor="start"  stroke="#a32a2a" stroke-width="0.25">Φ=4.98 eV</text>
<text x="339.8" y="107.6" font-size="7.3" font-weight="bold" fill="#3aad7a" text-anchor="start"  stroke="#3aad7a" stroke-width="0.25">Φ=4.86 eV</text>
<path d="M508.60,132.40 L530.00,132.10 L534.00,130.70 L537.10,128.70 L540.10,128.30 L542.10,122.60 L544.20,113.50 L546.20,102.40 L547.80,86.20 L549.20,77.10 L550.20,80.10 L551.30,90.50 L552.60,88.70 L555.20,73.50 L556.20,69.50 L558.60,65.40 L560.20,65.40 L562.30,62.40 L564.30,58.30 L565.30,50.20 L566.70,35.10 L568.30,54.30 L570.00,68.50 L572.00,76.60 L573.00,75.50 L574.40,54.30 L575.80,43.20 L577.40,50.20 L578.40,70.00 L579.60,73.00 L581.60,83.20 L583.00,80.10 L584.70,86.20 L586.70,92.30 L588.20,98.00 L588.70,108.00 L589.40,113.20 L591.00,115.30 L592.60,114.00 L593.80,114.30 L595.50,117.00 L597.00,122.00 L598.70,128.70 L600.10,130.10 L601.50,121.00 L603.60,125.20 L605.70,130.80 L607.50,125.00 L609.20,121.80 L611.00,125.00 L612.70,130.80 L616.00,131.50 L620.00,129.60 L623.00,131.50 L627.00,130.20 L630.00,131.50 L633.00,130.20 L636.00,131.50 L648.00,130.50 L652.00,131.80 L665.00,132.00 L665.00,132.40 Z" fill="#ff7878" stroke="#ff4040" stroke-width="0.9" stroke-linejoin="round"/>
<path d="M545.00,132.40 L552.30,131.20 L556.00,129.50 L560.40,127.70 L563.70,126.80 L566.50,127.60 L570.50,124.70 L573.50,126.20 L577.70,121.50 L579.60,118.60 L582.60,113.50 L584.50,113.20 L586.70,114.20 L589.30,110.00 L590.70,107.60 L592.40,107.00 L593.80,107.40 L595.50,110.40 L596.80,116.60 L598.80,122.60 L600.30,125.60 L601.50,127.50 L602.50,131.70 L607.00,131.50 L609.90,127.30 L612.50,131.80 L620.00,132.40 Z" fill="#5a4a4a" fill-opacity="0.55" stroke="#6a5a5a" stroke-width="0.8" stroke-linejoin="round"/>
<line x1="508.6" y1="7.8" x2="665.0" y2="7.8" stroke="#383838" stroke-width="1.4"/>
<line x1="508.6" y1="132.4" x2="665.0" y2="132.4" stroke="#1a1a1a" stroke-width="1.4"/>
<line x1="665.0" y1="7.2" x2="665.0" y2="133.0" stroke="#555" stroke-width="1.6"/>
<line x1="508.6" y1="7.2" x2="508.6" y2="133.0" stroke="#222" stroke-width="1.35"/>
<line x1="602.3" y1="7.8" x2="602.3" y2="132.4" stroke="#111" stroke-width="1.1" stroke-dasharray="2 2.05"/>
<line x1="508.6" y1="132.4" x2="508.6" y2="134.8" stroke="#1a1a1a" stroke-width="0.9" />
<line x1="524.2" y1="132.4" x2="524.2" y2="134.0" stroke="#1a1a1a" stroke-width="0.9" />
<line x1="539.8000000000001" y1="132.4" x2="539.8000000000001" y2="134.8" stroke="#1a1a1a" stroke-width="0.9" />
<line x1="555.4" y1="132.4" x2="555.4" y2="134.0" stroke="#1a1a1a" stroke-width="0.9" />
<line x1="571.0" y1="132.4" x2="571.0" y2="134.8" stroke="#1a1a1a" stroke-width="0.9" />
<line x1="586.6" y1="132.4" x2="586.6" y2="134.0" stroke="#1a1a1a" stroke-width="0.9" />
<line x1="602.2" y1="132.4" x2="602.2" y2="134.8" stroke="#1a1a1a" stroke-width="0.9" />
<line x1="617.8000000000001" y1="132.4" x2="617.8000000000001" y2="134.0" stroke="#1a1a1a" stroke-width="0.9" />
<line x1="633.4" y1="132.4" x2="633.4" y2="134.8" stroke="#1a1a1a" stroke-width="0.9" />
<line x1="649.0" y1="132.4" x2="649.0" y2="134.0" stroke="#1a1a1a" stroke-width="0.9" />
<line x1="664.6" y1="132.4" x2="664.6" y2="134.8" stroke="#1a1a1a" stroke-width="0.9" />
<text x="508.6" y="142.4" font-size="6.8" font-weight="bold" fill="#000" text-anchor="middle"  stroke="#000" stroke-width="0.25">-12</text>
<text x="539.8000000000001" y="142.4" font-size="6.8" font-weight="bold" fill="#000" text-anchor="middle"  stroke="#000" stroke-width="0.25">-8</text>
<text x="571.0" y="142.4" font-size="6.8" font-weight="bold" fill="#000" text-anchor="middle"  stroke="#000" stroke-width="0.25">-4</text>
<text x="602.2" y="142.4" font-size="6.8" font-weight="bold" fill="#000" text-anchor="middle"  stroke="#000" stroke-width="0.25">0</text>
<text x="633.4" y="142.4" font-size="6.8" font-weight="bold" fill="#000" text-anchor="middle"  stroke="#000" stroke-width="0.25">4</text>
<text x="664.6" y="142.4" font-size="6.8" font-weight="bold" fill="#000" text-anchor="middle"  stroke="#000" stroke-width="0.25">8</text>
<text x="558.5" y="151.9" font-size="10.3" font-weight="bold" fill="#000" text-anchor="start"  stroke="#000" stroke-width="0.15">Energy (eV)</text>
<text x="505.3" y="70" font-size="10.4" font-weight="bold" fill="#000" text-anchor="middle" transform="rotate(-90 505.3 70)" stroke="#000" stroke-width="0.15">PDOS (a.u.)</text>
<rect x="512.3" y="11.3" width="15.8" height="7.2" fill="#ff7878" stroke="#ff5050" stroke-width="0.6"/>
<rect x="512.3" y="21.8" width="15.8" height="7.2" fill="#9a9a9a" stroke="#7a7a7a" stroke-width="0.6"/>
<text x="530.6" y="17.5" font-size="8" font-weight="bold" fill="#ff1a1a" text-anchor="start"  stroke="#ff1a1a" stroke-width="0.25">Au</text>
<text x="530.6" y="28.1" font-size="8" font-weight="bold" fill="#333" text-anchor="start"  stroke="#333" stroke-width="0.25">Pd</text>
<text x="662.9" y="17.0" font-size="8.7" font-weight="bold" fill="#4cb88a" text-anchor="end">Au@Au<tspan font-size="6" dy="2.0">3</tspan><tspan dy="-2.0">Pd</tspan></text>
<text x="606.0" y="31.6" font-size="8.4" font-weight="bold" font-style="italic" fill="#111" stroke="#111" stroke-width="0.25">E<tspan font-size="5.88" dx="0.3" dy="1.85">F</tspan></text>
<text x="569.6" y="38.5" font-size="8.4" font-weight="bold" fill="#f01c24" text-anchor="start"  stroke="#f01c24" stroke-width="0.25">Au-5d</text>
<text x="605.4" y="111.0" font-size="8.4" font-weight="bold" fill="#4a4a4a" text-anchor="start"  stroke="#4a4a4a" stroke-width="0.25">Pd-4d</text>
<defs><linearGradient id="g1" gradientUnits="userSpaceOnUse" x1="0" y1="186" x2="0" y2="215"><stop offset="0" stop-color="#8cd2b2"/><stop offset="1" stop-color="#b2e2cc"/></linearGradient></defs>
<path d="M30.40,215.70 C44.92,215.64 64.28,215.88 78.80,215.50 C80.46,215.46 82.62,214.79 84.20,214.30 C85.99,213.74 88.26,212.70 90.00,212.00 C90.96,211.62 92.16,210.70 93.20,210.70 C94.32,210.70 95.63,212.35 96.70,212.00 C98.15,211.53 98.84,208.85 100.30,208.40 C101.41,208.06 102.75,209.92 103.90,209.80 C104.77,209.71 105.33,208.36 106.00,207.80 C106.56,207.33 107.48,206.91 108.00,206.40 C108.75,205.67 109.66,204.59 110.20,203.70 C111.14,202.15 112.09,199.92 112.90,198.30 C113.56,196.98 114.06,194.94 115.10,193.90 C115.46,193.54 116.21,194.34 116.70,194.50 C117.20,194.67 117.90,195.17 118.40,195.00 C119.04,194.79 119.33,193.50 120.00,193.40 C120.58,193.31 121.03,194.60 121.60,194.50 C122.31,194.37 122.99,193.45 123.30,192.80 C123.86,191.59 123.92,189.74 124.40,188.50 C124.56,188.08 124.95,187.40 125.40,187.40 C125.93,187.40 126.29,188.67 126.80,188.50 C127.63,188.22 127.83,186.30 128.70,186.30 C129.44,186.30 129.64,187.78 129.80,188.50 C130.45,191.41 130.84,195.37 131.40,198.30 C131.84,200.60 132.04,203.82 133.10,205.90 C133.36,206.42 134.12,204.80 134.70,204.80 C135.23,204.80 135.93,205.39 136.10,205.90 C136.95,208.46 136.78,212.29 138.00,214.70 C138.34,215.37 139.77,214.79 140.50,214.60 C141.16,214.42 142.02,213.98 142.50,213.50 C143.57,212.43 144.08,209.42 145.60,209.50 C147.15,209.58 147.51,212.60 148.50,213.80 C148.85,214.22 149.46,214.73 150.00,214.80 C151.49,214.98 153.53,214.91 155.00,214.60 C156.13,214.36 157.35,212.98 158.50,213.00 C159.67,213.02 160.85,214.48 162.00,214.70 C163.47,214.98 165.50,214.67 167.00,214.60 C168.17,214.55 169.73,214.25 170.90,214.30 C171.85,214.34 173.05,214.88 174.00,214.90 C184.44,215.09 198.36,214.76 208.80,215.00 C209.01,215.00 208.80,215.49 208.80,215.70 Z" fill="url(#g1)" stroke="#5cbd90" stroke-width="0.9" stroke-linejoin="round"/>
<defs><linearGradient id="g2" gradientUnits="userSpaceOnUse" x1="0" y1="222" x2="0" y2="257"><stop offset="0" stop-color="#a6a6a6"/><stop offset="1" stop-color="#cdcdcd"/></linearGradient></defs>
<path d="M88.20,257.30 C89.10,254.93 90.11,251.69 91.20,249.40 C91.47,248.83 92.16,248.23 92.70,247.90 C93.32,247.52 94.59,247.71 95.00,247.10 C96.05,245.53 96.16,242.77 97.20,241.20 C97.99,240.01 99.51,238.55 100.90,238.20 C101.70,238.00 102.72,239.03 103.20,239.70 C104.36,241.34 104.79,247.14 106.20,245.70 C108.62,243.23 105.96,236.84 108.40,234.40 C109.92,232.88 109.51,239.40 110.70,241.20 C111.06,241.75 112.66,241.81 112.90,241.20 C114.15,238.01 114.33,233.34 115.10,230.00 C115.68,227.48 114.93,220.93 117.40,221.70 C120.25,222.59 119.05,228.47 119.60,231.40 C120.31,235.22 117.98,242.77 121.60,244.20 C124.79,245.46 122.78,236.28 123.40,232.90 C123.89,230.21 122.57,224.00 125.30,224.00 C128.06,224.00 126.96,230.22 127.60,232.90 C128.19,235.38 128.29,238.91 129.40,241.20 C129.68,241.77 130.59,239.14 130.90,239.70 C132.13,241.93 130.94,249.24 133.10,247.90 C135.80,246.22 134.11,240.54 134.60,237.40 C135.13,234.03 133.27,225.12 136.50,226.20 C140.19,227.43 138.45,235.07 139.10,238.90 C139.89,243.59 140.35,249.94 141.30,254.60 C141.47,255.43 141.98,256.79 142.80,257.00 C144.89,257.53 147.84,256.88 150.00,256.80 C152.10,256.73 154.98,257.08 157.00,256.50 C158.06,256.19 158.60,253.98 159.70,254.00 C160.85,254.02 161.43,256.19 162.50,256.60 C163.62,257.03 165.32,256.79 166.50,256.60 C167.36,256.46 168.33,255.48 169.20,255.50 C170.11,255.52 171.09,256.59 172.00,256.70 C173.79,256.92 176.20,256.71 178.00,256.60 C178.61,256.56 179.39,256.18 180.00,256.20 C180.62,256.22 181.38,256.66 182.00,256.70 C183.20,256.78 184.80,256.70 186.00,256.60 C186.61,256.55 187.39,256.18 188.00,256.20 C188.62,256.22 189.38,256.68 190.00,256.70 C195.64,256.86 203.16,256.62 208.80,256.80 C208.95,256.80 208.80,257.15 208.80,257.30 Z" fill="url(#g2)" stroke="#5a5a5a" stroke-width="0.9" stroke-linejoin="round"/>
<defs><linearGradient id="g3" gradientUnits="userSpaceOnUse" x1="0" y1="270" x2="0" y2="298"><stop offset="0" stop-color="#5eaedc"/><stop offset="1" stop-color="#8cd0f2"/></linearGradient></defs>
<path d="M85.10,298.30 C86.00,296.74 87.33,294.73 88.10,293.10 C89.11,290.97 89.81,287.83 91.00,285.80 C91.40,285.13 92.53,284.81 93.20,284.40 C93.61,284.15 94.43,284.05 94.60,283.60 C95.56,281.05 95.34,277.09 96.80,274.80 C97.34,273.95 98.01,276.84 98.30,277.80 C99.13,280.61 99.71,284.48 100.50,287.30 C100.82,288.45 101.36,292.01 102.00,291.00 C103.57,288.50 102.88,284.04 104.20,281.40 C104.51,280.77 105.70,282.20 106.40,282.20 C107.10,282.20 108.22,281.99 108.60,281.40 C109.61,279.85 110.08,277.34 110.70,275.60 C111.25,274.04 110.96,269.82 112.50,270.40 C114.43,271.13 113.98,274.98 114.40,277.00 C115.12,280.48 115.34,285.28 116.30,288.70 C116.49,289.38 117.68,290.76 118.10,290.20 C119.17,288.76 118.81,286.05 119.50,284.40 C120.15,282.86 121.05,280.54 122.50,279.70 C123.22,279.28 124.25,280.70 124.70,281.40 C125.61,282.83 125.90,285.23 126.90,286.60 C127.29,287.14 128.71,287.90 129.00,287.30 C130.28,284.67 128.31,278.26 131.20,277.80 C133.89,277.37 132.32,284.10 133.40,286.60 C133.64,287.16 135.05,287.85 135.30,287.30 C136.42,284.85 134.74,277.20 137.10,278.50 C140.05,280.12 138.54,286.22 139.30,289.50 C139.86,291.92 139.53,295.97 141.50,297.50 C143.52,299.06 147.45,297.76 150.00,297.80 C151.65,297.82 154.01,298.41 155.50,297.70 C156.71,297.13 156.66,294.03 158.00,294.00 C159.31,293.97 159.31,297.04 160.50,297.60 C161.99,298.31 164.35,297.92 166.00,297.80 C166.81,297.74 167.78,297.00 168.60,297.00 C169.36,297.00 170.24,297.74 171.00,297.80 C173.09,297.96 175.90,297.84 178.00,297.70 C178.56,297.66 179.24,297.19 179.80,297.20 C180.48,297.22 181.32,297.76 182.00,297.80 C183.80,297.91 186.20,297.83 188.00,297.70 C188.76,297.65 189.74,297.18 190.50,297.20 C191.27,297.22 192.23,297.77 193.00,297.80 C197.74,297.98 204.07,297.66 208.80,297.90 C209.01,297.91 208.80,298.39 208.80,298.60 Z" fill="url(#g3)" stroke="#2f74a8" stroke-width="0.9" stroke-linejoin="round"/>
<line x1="30.5" y1="215.7" x2="208.8" y2="215.7" stroke="#2f7a56" stroke-width="1.6" />
<line x1="30.5" y1="257.3" x2="208.8" y2="257.3" stroke="#222" stroke-width="1.4" />
<line x1="30.5" y1="298.6" x2="208.8" y2="298.6" stroke="#1d3f5a" stroke-width="1.5" />
<line x1="30.5" y1="174.4" x2="208.8" y2="174.4" stroke="#383838" stroke-width="1.4"/>
<line x1="208.8" y1="173.8" x2="208.8" y2="299.20000000000005" stroke="#555" stroke-width="1.6"/>
<line x1="30.5" y1="173.8" x2="30.5" y2="299.20000000000005" stroke="#222" stroke-width="1.35"/>
<line x1="137.4" y1="174.4" x2="137.4" y2="299.6" stroke="#111" stroke-width="1.1" stroke-dasharray="2 2.05"/>
<line x1="120.2" y1="194.3" x2="120.2" y2="215.7" stroke="#333" stroke-width="1.0" stroke-dasharray="1.3 1.9"/>
<line x1="119.6" y1="243.5" x2="119.6" y2="257.3" stroke="#333" stroke-width="1.0" stroke-dasharray="1.3 1.9"/>
<line x1="114.7" y1="283.8" x2="114.7" y2="298.6" stroke="#333" stroke-width="1.0" stroke-dasharray="1.3 1.9"/>
<line x1="30.5" y1="298.6" x2="30.5" y2="301.0" stroke="#1a1a1a" stroke-width="0.9" />
<line x1="48.31" y1="298.6" x2="48.31" y2="300.20000000000005" stroke="#1a1a1a" stroke-width="0.9" />
<line x1="66.12" y1="298.6" x2="66.12" y2="301.0" stroke="#1a1a1a" stroke-width="0.9" />
<line x1="83.92999999999999" y1="298.6" x2="83.92999999999999" y2="300.20000000000005" stroke="#1a1a1a" stroke-width="0.9" />
<line x1="101.74" y1="298.6" x2="101.74" y2="301.0" stroke="#1a1a1a" stroke-width="0.9" />
<line x1="119.55" y1="298.6" x2="119.55" y2="300.20000000000005" stroke="#1a1a1a" stroke-width="0.9" />
<line x1="137.35999999999999" y1="298.6" x2="137.35999999999999" y2="301.0" stroke="#1a1a1a" stroke-width="0.9" />
<line x1="155.17" y1="298.6" x2="155.17" y2="300.20000000000005" stroke="#1a1a1a" stroke-width="0.9" />
<line x1="172.98" y1="298.6" x2="172.98" y2="301.0" stroke="#1a1a1a" stroke-width="0.9" />
<line x1="190.79" y1="298.6" x2="190.79" y2="300.20000000000005" stroke="#1a1a1a" stroke-width="0.9" />
<line x1="208.6" y1="298.6" x2="208.6" y2="301.0" stroke="#1a1a1a" stroke-width="0.9" />
<text x="30.5" y="308.4" font-size="7.0" font-weight="bold" fill="#000" text-anchor="middle"  stroke="#000" stroke-width="0.25">-12</text>
<text x="66.12" y="308.4" font-size="7.0" font-weight="bold" fill="#000" text-anchor="middle"  stroke="#000" stroke-width="0.25">-8</text>
<text x="101.74" y="308.4" font-size="7.0" font-weight="bold" fill="#000" text-anchor="middle"  stroke="#000" stroke-width="0.25">-4</text>
<text x="137.35999999999999" y="308.4" font-size="7.0" font-weight="bold" fill="#000" text-anchor="middle"  stroke="#000" stroke-width="0.25">0</text>
<text x="172.98" y="308.4" font-size="7.0" font-weight="bold" fill="#000" text-anchor="middle"  stroke="#000" stroke-width="0.25">4</text>
<text x="208.6" y="308.4" font-size="7.0" font-weight="bold" fill="#000" text-anchor="middle"  stroke="#000" stroke-width="0.25">8</text>
<text x="94.9" y="317.4" font-size="9.4" font-weight="bold" fill="#000" text-anchor="start"  stroke="#000" stroke-width="0.15">Energy (eV)</text>
<text x="27.1" y="239.9" font-size="9.0" font-weight="bold" fill="#000" text-anchor="middle" transform="rotate(-90 27.1 239.9)" stroke="#000" stroke-width="0.15">PDOS (a.u.)</text>
<defs><linearGradient id="g4" gradientUnits="userSpaceOnUse" x1="0" y1="204" x2="0" y2="211.5"><stop offset="0" stop-color="#8ed2b2"/><stop offset="1" stop-color="#b4e4cc"/></linearGradient></defs>
<rect x="31.7" y="204.2" width="15.3" height="7.3" fill="url(#g4)" stroke="#6cc49c" stroke-width="0.8"/>
<defs><linearGradient id="g5" gradientUnits="userSpaceOnUse" x1="0" y1="248" x2="0" y2="255.5"><stop offset="0" stop-color="#a8a8a8"/><stop offset="1" stop-color="#c8c8c8"/></linearGradient></defs>
<rect x="31.9" y="248.1" width="15.1" height="7.3" rx="0.6" fill="url(#g5)" stroke="#7a7a7a" stroke-width="0.8"/>
<defs><linearGradient id="g6" gradientUnits="userSpaceOnUse" x1="0" y1="289" x2="0" y2="296.7"><stop offset="0" stop-color="#5aa4d4"/><stop offset="1" stop-color="#90d2f4"/></linearGradient></defs>
<rect x="31.5" y="289.2" width="15.5" height="7.4" fill="url(#g6)" stroke="#3a80b0" stroke-width="0.8"/>
<text x="49.0" y="210.6" font-size="7.6" font-weight="bold" fill="#3aad7a" stroke="#3aad7a" stroke-width="0.25">Au@Au<tspan font-size="5.2" dy="1.5">3</tspan><tspan dy="-1.5">Pd</tspan></text>
<text x="49.0" y="254.8" font-size="7.8" font-weight="bold" fill="#3e3e3e" text-anchor="start"  stroke="#3e3e3e" stroke-width="0.25">Pd (111)</text>
<text x="49.0" y="295.9" font-size="7.7" font-weight="bold" fill="#1a4c7c" text-anchor="start"  stroke="#1a4c7c" stroke-width="0.25">Pd metal</text>
<text x="143.2" y="184.0" font-size="7.6" font-weight="bold" font-style="italic" fill="#111" stroke="#111" stroke-width="0.25">E<tspan font-size="5.32" dx="0.3" dy="1.67">F</tspan></text>
<text x="207.5" y="184.5" font-size="7.9" font-weight="bold" fill="#444" text-anchor="end"  stroke="#444" stroke-width="0.25">Pd-4d</text>
<defs><linearGradient id="g7" gradientUnits="userSpaceOnUse" x1="0" y1="179" x2="0" y2="205"><stop offset="0" stop-color="#f88e8e"/><stop offset="1" stop-color="#faa8a4"/></linearGradient></defs>
<path d="M262.40,205.50 C272.48,205.41 285.92,205.33 296.00,205.20 C297.44,205.18 299.40,205.35 300.80,205.00 C302.10,204.67 303.61,203.61 304.80,203.00 C305.83,202.47 307.08,201.46 308.20,201.20 C309.00,201.02 310.22,202.05 310.90,201.60 C312.10,200.80 312.90,198.87 313.60,197.60 C314.13,196.64 314.03,194.72 315.00,194.20 C315.71,193.82 316.53,195.83 317.30,195.60 C318.36,195.28 319.24,193.81 319.70,192.80 C320.68,190.66 321.20,187.52 322.00,185.30 C322.47,184.00 322.55,181.41 323.90,181.10 C325.00,180.85 325.06,183.46 325.50,184.50 C326.02,185.71 325.86,188.14 327.10,188.60 C328.09,188.97 328.96,186.92 329.50,186.00 C330.54,184.21 330.60,180.88 332.30,179.70 C333.19,179.08 333.38,182.00 333.80,183.00 C334.22,183.98 334.12,186.71 335.10,186.30 C336.33,185.79 335.78,183.27 336.20,182.00 C336.48,181.16 336.52,179.16 337.40,179.30 C338.50,179.48 338.41,181.82 339.30,182.50 C339.85,182.92 340.99,182.19 341.60,182.50 C342.51,182.96 343.45,184.04 344.00,184.90 C344.74,186.06 345.38,187.79 345.80,189.10 C346.64,191.73 347.31,195.38 348.20,198.00 C348.46,198.76 348.83,200.53 349.60,200.30 C350.78,199.95 350.95,197.68 351.90,196.90 C352.55,196.37 353.80,196.44 354.60,196.20 C355.42,195.96 356.54,194.92 357.30,195.30 C358.51,195.90 359.20,197.81 360.00,198.90 C361.03,200.30 361.73,203.12 363.40,203.60 C364.78,203.99 365.97,201.00 367.40,201.00 C368.38,201.00 368.73,202.88 369.40,203.60 C369.76,203.99 370.28,204.60 370.80,204.70 C371.74,204.88 373.09,204.82 374.00,204.50 C375.17,204.08 376.26,202.21 377.50,202.30 C378.82,202.39 379.68,204.94 381.00,205.00 C398.92,205.82 422.86,205.05 440.80,205.20 C440.89,205.20 440.80,205.41 440.80,205.50 Z" fill="url(#g7)" stroke="#f87878" stroke-width="0.8" stroke-linejoin="round"/>
<defs><linearGradient id="g8" gradientUnits="userSpaceOnUse" x1="0" y1="209" x2="0" y2="236"><stop offset="0" stop-color="#f064b8"/><stop offset="1" stop-color="#f89ad4"/></linearGradient></defs>
<path d="M262.40,236.20 C271.49,236.17 283.61,236.35 292.70,236.10 C293.54,236.08 294.56,235.40 295.40,235.30 C296.59,235.16 298.30,235.79 299.40,235.30 C300.51,234.81 301.27,233.18 302.10,232.30 C302.89,231.47 304.19,230.57 304.80,229.60 C305.62,228.31 306.20,226.31 306.80,224.90 C307.40,223.49 307.29,220.46 308.80,220.20 C310.14,219.97 309.93,223.25 310.90,224.20 C311.33,224.62 312.42,224.56 312.90,224.20 C314.14,223.26 315.04,221.24 316.20,220.20 C316.88,219.59 318.02,219.03 318.90,218.80 C319.68,218.60 320.84,219.08 321.60,218.80 C322.55,218.45 323.63,217.55 324.30,216.80 C325.27,215.72 326.20,214.01 327.00,212.80 C327.61,211.88 328.01,209.21 329.00,209.70 C330.47,210.43 330.46,213.25 331.00,214.80 C331.69,216.79 332.00,219.70 333.10,221.50 C333.41,222.01 334.71,221.96 335.10,221.50 C336.09,220.33 336.43,218.18 337.10,216.80 C337.64,215.69 337.96,212.72 339.10,213.20 C340.82,213.93 341.07,217.08 341.80,218.80 C342.48,220.39 342.46,223.11 343.80,224.20 C344.53,224.79 345.56,222.70 346.50,222.60 C347.36,222.50 348.44,223.18 349.20,223.60 C350.08,224.09 351.28,224.81 351.90,225.60 C352.73,226.66 353.26,228.42 353.90,229.60 C354.46,230.64 354.82,232.52 355.90,233.00 C356.87,233.43 358.24,232.00 359.30,232.00 C360.16,232.00 361.24,232.59 362.00,233.00 C363.08,233.59 364.17,235.18 365.40,235.30 C366.35,235.39 367.15,233.53 368.10,233.60 C369.12,233.68 369.82,235.39 370.80,235.70 C371.72,235.99 373.08,235.78 374.00,235.50 C375.13,235.16 376.32,233.62 377.50,233.70 C378.75,233.79 379.74,235.95 381.00,236.00 C398.90,236.65 422.79,235.94 440.70,236.00 C440.76,236.00 440.70,236.14 440.70,236.20 Z" fill="url(#g8)" stroke="#e850aa" stroke-width="0.8" stroke-linejoin="round"/>
<defs><linearGradient id="g9" gradientUnits="userSpaceOnUse" x1="0" y1="241" x2="0" y2="267"><stop offset="0" stop-color="#f06464"/><stop offset="1" stop-color="#f89c98"/></linearGradient></defs>
<path d="M262.40,267.60 C275.54,267.60 293.11,268.70 306.20,267.60 C307.89,267.46 309.10,264.89 310.20,263.60 C311.33,262.27 312.68,260.38 313.60,258.90 C314.31,257.76 315.05,256.13 315.60,254.90 C316.04,253.90 315.83,251.27 316.90,251.50 C318.24,251.78 318.24,254.40 318.90,255.60 C319.47,256.63 319.83,258.77 321.00,258.90 C322.27,259.04 323.57,257.25 324.30,256.20 C325.42,254.58 325.98,251.89 327.00,250.20 C327.83,248.83 328.97,246.81 330.40,246.10 C331.06,245.77 331.74,247.83 332.40,247.50 C333.46,246.97 333.23,243.93 334.40,244.10 C335.86,244.32 336.28,246.97 337.10,248.20 C337.90,249.40 338.60,253.01 339.80,252.20 C341.99,250.73 341.11,245.71 343.20,244.10 C344.23,243.31 345.09,246.48 345.90,247.50 C346.68,248.49 347.62,251.70 348.50,250.80 C350.60,248.66 349.49,243.18 351.90,241.40 C353.29,240.37 353.51,245.12 353.90,246.80 C354.74,250.39 355.03,255.35 356.00,258.90 C356.45,260.56 357.39,262.79 358.60,264.00 C359.53,264.93 361.40,265.38 362.70,265.60 C363.88,265.80 365.51,265.25 366.70,265.40 C367.45,265.49 368.27,266.22 369.00,266.40 C369.91,266.62 371.17,266.69 372.10,266.70 C392.68,266.93 420.12,266.93 440.70,267.20 C440.82,267.20 440.70,267.48 440.70,267.60 Z" fill="url(#g9)" stroke="#e84848" stroke-width="0.8" stroke-linejoin="round"/>
<defs><linearGradient id="g10" gradientUnits="userSpaceOnUse" x1="0" y1="273" x2="0" y2="298"><stop offset="0" stop-color="#f6b07c"/><stop offset="1" stop-color="#fac9a0"/></linearGradient></defs>
<path d="M262.40,298.50 C273.92,298.38 289.30,298.72 300.80,298.10 C301.77,298.05 302.70,296.86 303.50,296.30 C304.32,295.72 305.68,295.16 306.20,294.30 C307.32,292.46 307.86,289.54 308.80,287.60 C309.46,286.23 310.29,284.23 311.50,283.30 C312.31,282.67 313.87,282.86 314.90,282.90 C315.33,282.92 315.89,283.20 316.20,283.50 C316.94,284.21 317.31,286.47 318.30,286.20 C319.70,285.82 320.13,283.36 321.00,282.20 C321.93,280.96 322.99,279.04 324.30,278.20 C324.83,277.86 325.88,279.26 326.30,278.80 C327.59,277.38 327.54,274.24 329.00,273.00 C329.61,272.48 330.63,274.08 331.00,274.80 C332.08,276.90 332.39,280.23 333.70,282.20 C334.16,282.90 335.80,283.49 336.40,282.90 C337.92,281.40 337.38,276.29 339.50,276.50 C341.77,276.72 340.48,282.44 342.50,283.50 C343.78,284.17 343.79,279.84 345.20,279.50 C346.31,279.23 347.14,283.06 347.90,282.20 C349.73,280.13 348.21,274.78 350.60,273.40 C352.27,272.44 352.12,277.64 352.60,279.50 C353.32,282.29 353.69,286.16 354.60,288.90 C355.11,290.44 356.34,292.29 357.30,293.60 C357.98,294.53 359.05,295.66 360.00,296.30 C360.92,296.92 362.32,297.91 363.40,297.70 C364.66,297.46 365.42,295.09 366.70,295.00 C367.76,294.93 368.38,297.01 369.40,297.30 C371.34,297.86 374.09,297.83 376.10,297.70 C377.31,297.62 378.78,296.58 380.00,296.60 C381.25,296.62 382.75,297.77 384.00,297.80 C401.00,298.25 423.69,297.99 440.70,298.20 C440.79,298.20 440.70,298.41 440.70,298.50 Z" fill="url(#g10)" stroke="#f0a468" stroke-width="0.8" stroke-linejoin="round"/>
<line x1="262.4" y1="205.5" x2="440.8" y2="205.5" stroke="#6e2a2e" stroke-width="1.5" />
<line x1="262.4" y1="236.2" x2="440.8" y2="236.2" stroke="#6a2458" stroke-width="1.5" />
<line x1="262.4" y1="267.6" x2="440.8" y2="267.6" stroke="#6a2222" stroke-width="1.5" />
<line x1="262.4" y1="298.8" x2="440.8" y2="298.8" stroke="#5e4a3a" stroke-width="1.5" />
<line x1="262.4" y1="174.4" x2="440.8" y2="174.4" stroke="#383838" stroke-width="1.4"/>
<line x1="440.8" y1="173.8" x2="440.8" y2="299.40000000000003" stroke="#555" stroke-width="1.6"/>
<line x1="262.4" y1="173.8" x2="262.4" y2="299.40000000000003" stroke="#222" stroke-width="1.35"/>
<line x1="369.6" y1="174.4" x2="369.6" y2="299.8" stroke="#111" stroke-width="1.1" stroke-dasharray="2 2.05"/>
<line x1="336.7" y1="183.6" x2="336.7" y2="205.5" stroke="#333" stroke-width="1.0" stroke-dasharray="1.3 1.9"/>
<line x1="332.0" y1="220.9" x2="332.0" y2="236.2" stroke="#333" stroke-width="1.0" stroke-dasharray="1.3 1.9"/>
<line x1="338.4" y1="252.1" x2="338.4" y2="267.6" stroke="#333" stroke-width="1.0" stroke-dasharray="1.3 1.9"/>
<line x1="333.4" y1="282.9" x2="333.4" y2="298.8" stroke="#333" stroke-width="1.0" stroke-dasharray="1.3 1.9"/>
<line x1="262.4" y1="298.8" x2="262.4" y2="301.2" stroke="#1a1a1a" stroke-width="0.9" />
<line x1="280.22999999999996" y1="298.8" x2="280.22999999999996" y2="300.40000000000003" stroke="#1a1a1a" stroke-width="0.9" />
<line x1="298.05999999999995" y1="298.8" x2="298.05999999999995" y2="301.2" stroke="#1a1a1a" stroke-width="0.9" />
<line x1="315.89" y1="298.8" x2="315.89" y2="300.40000000000003" stroke="#1a1a1a" stroke-width="0.9" />
<line x1="333.71999999999997" y1="298.8" x2="333.71999999999997" y2="301.2" stroke="#1a1a1a" stroke-width="0.9" />
<line x1="351.54999999999995" y1="298.8" x2="351.54999999999995" y2="300.40000000000003" stroke="#1a1a1a" stroke-width="0.9" />
<line x1="369.38" y1="298.8" x2="369.38" y2="301.2" stroke="#1a1a1a" stroke-width="0.9" />
<line x1="387.21" y1="298.8" x2="387.21" y2="300.40000000000003" stroke="#1a1a1a" stroke-width="0.9" />
<line x1="405.03999999999996" y1="298.8" x2="405.03999999999996" y2="301.2" stroke="#1a1a1a" stroke-width="0.9" />
<line x1="422.86999999999995" y1="298.8" x2="422.86999999999995" y2="300.40000000000003" stroke="#1a1a1a" stroke-width="0.9" />
<line x1="440.69999999999993" y1="298.8" x2="440.69999999999993" y2="301.2" stroke="#1a1a1a" stroke-width="0.9" />
<text x="262.4" y="308.4" font-size="7.0" font-weight="bold" fill="#000" text-anchor="middle"  stroke="#000" stroke-width="0.25">-12</text>
<text x="298.05999999999995" y="308.4" font-size="7.0" font-weight="bold" fill="#000" text-anchor="middle"  stroke="#000" stroke-width="0.25">-8</text>
<text x="333.71999999999997" y="308.4" font-size="7.0" font-weight="bold" fill="#000" text-anchor="middle"  stroke="#000" stroke-width="0.25">-4</text>
<text x="369.38" y="308.4" font-size="7.0" font-weight="bold" fill="#000" text-anchor="middle"  stroke="#000" stroke-width="0.25">0</text>
<text x="405.03999999999996" y="308.4" font-size="7.0" font-weight="bold" fill="#000" text-anchor="middle"  stroke="#000" stroke-width="0.25">4</text>
<text x="440.69999999999993" y="308.4" font-size="7.0" font-weight="bold" fill="#000" text-anchor="middle"  stroke="#000" stroke-width="0.25">8</text>
<text x="328.2" y="317.4" font-size="9.15" font-weight="bold" fill="#000" text-anchor="start"  stroke="#000" stroke-width="0.15">Energy (eV)</text>
<text x="258.5" y="238.4" font-size="9.2" font-weight="bold" fill="#000" text-anchor="middle" transform="rotate(-90 258.5 238.4)" stroke="#000" stroke-width="0.15">PDOS (a.u.)</text>
<text x="264.1" y="184.1" font-size="8.1" font-weight="bold" fill="#ff1414" text-anchor="start"  stroke="#ff1414" stroke-width="0.25">Au-5d</text>
<text x="372.8" y="185.2" font-size="7.6" font-weight="bold" font-style="italic" fill="#111" stroke="#111" stroke-width="0.25">E<tspan font-size="5.32" dx="0.3" dy="1.67">F</tspan></text>
<text x="439.5" y="202.6" font-size="7.6" font-weight="bold" fill="#f06a6a" text-anchor="end" stroke="#f06a6a" stroke-width="0.25">Au@Au<tspan font-size="5.4" dy="1.5">3</tspan><tspan dy="-1.5">Pd shell</tspan></text>
<text x="439.3" y="233.6" font-size="7.6" font-weight="bold" fill="#e844aa" text-anchor="end" stroke="#e844aa" stroke-width="0.25">Au@Au<tspan font-size="5.4" dy="1.5">3</tspan><tspan dy="-1.5">Pd core</tspan></text>
<text x="439.6" y="265.3" font-size="7.8" font-weight="bold" fill="#dd2030" text-anchor="end"  stroke="#dd2030" stroke-width="0.25">Au (111)</text>
<text x="440.0" y="296.0" font-size="7.8" font-weight="bold" fill="#f2a66a" text-anchor="end"  stroke="#f2a66a" stroke-width="0.25">Au metal</text>
<defs><linearGradient id="g11" gradientUnits="userSpaceOnUse" x1="0" y1="184" x2="0" y2="215"><stop offset="0" stop-color="#ff5c5c"/><stop offset="1" stop-color="#ff9c9c"/></linearGradient></defs>
<path d="M487.30,215.60 C506.92,215.60 533.11,216.75 552.70,215.60 C554.13,215.52 554.66,212.88 555.30,211.60 C556.52,209.18 557.88,205.81 558.90,203.30 C559.77,201.16 559.39,196.76 561.60,196.10 C563.37,195.57 563.23,200.08 563.90,201.80 C564.28,202.75 564.08,205.08 565.10,205.00 C566.42,204.90 567.20,202.68 567.80,201.50 C568.83,199.47 569.55,196.47 570.50,194.40 C571.15,192.98 571.83,190.80 573.10,189.90 C573.66,189.51 574.35,191.71 574.90,191.30 C575.97,190.49 575.41,186.83 576.70,187.20 C578.44,187.70 578.66,190.95 579.40,192.60 C579.98,193.89 580.21,198.10 581.10,197.00 C583.03,194.64 581.13,188.68 583.80,187.20 C585.70,186.14 585.39,194.35 587.40,193.50 C590.15,192.34 588.30,182.73 590.90,184.20 C594.32,186.13 592.89,193.14 593.60,197.00 C594.24,200.46 594.56,205.18 595.40,208.60 C595.65,209.62 596.49,210.83 597.20,211.60 C598.10,212.57 599.44,213.89 600.70,214.30 C601.50,214.56 602.57,213.53 603.40,213.60 C604.51,213.69 605.80,214.63 606.90,214.80 C608.41,215.03 610.47,214.97 612.00,214.90 C613.21,214.85 614.79,214.38 616.00,214.40 C617.21,214.42 618.79,214.96 620.00,215.00 C623.00,215.11 627.00,214.89 630.00,214.90 C640.71,214.92 654.99,214.89 665.70,215.10 C665.85,215.10 665.70,215.45 665.70,215.60 Z" fill="url(#g11)" stroke="#f03a3a" stroke-width="0.9" stroke-linejoin="round"/>
<defs><linearGradient id="g12" gradientUnits="userSpaceOnUse" x1="0" y1="229" x2="0" y2="256"><stop offset="0" stop-color="#70c49c"/><stop offset="1" stop-color="#acdec6"/></linearGradient></defs>
<path d="M487.30,257.00 C504.37,256.94 527.13,257.17 544.20,256.80 C545.30,256.78 546.61,255.87 547.70,255.70 C548.74,255.54 550.37,256.34 551.20,255.70 C552.54,254.66 553.20,252.29 554.00,250.80 C554.67,249.56 555.51,247.88 556.10,246.60 C556.78,245.12 556.60,241.87 558.20,241.60 C559.62,241.36 558.95,245.42 560.30,245.90 C561.29,246.25 561.76,243.93 562.40,243.10 C563.23,242.01 564.18,240.41 565.20,239.50 C565.90,238.87 567.18,238.55 568.00,238.10 C569.10,237.50 570.48,236.55 571.60,236.00 C572.20,235.71 573.36,235.87 573.70,235.30 C574.58,233.79 573.59,230.04 575.30,229.70 C576.85,229.39 576.52,233.18 577.20,234.60 C577.93,236.13 578.37,239.97 580.00,239.50 C581.92,238.95 581.17,234.96 582.10,233.20 C582.48,232.48 583.67,230.88 584.20,231.50 C585.55,233.08 585.45,236.20 586.30,238.10 C586.73,239.06 587.35,240.90 588.40,240.90 C589.45,240.90 589.49,237.81 590.50,238.10 C591.96,238.52 592.30,241.16 593.30,242.30 C594.00,243.10 595.30,243.79 596.10,244.50 C596.99,245.29 597.75,247.01 598.90,247.30 C599.81,247.53 600.88,245.43 601.70,245.90 C602.92,246.60 603.28,248.79 603.80,250.10 C604.54,251.95 604.01,255.77 605.90,256.40 C607.42,256.91 606.40,251.50 608.00,251.50 C609.60,251.50 608.94,255.30 610.10,256.40 C610.64,256.91 611.87,256.19 612.50,255.80 C613.60,255.11 614.41,252.77 615.70,252.90 C617.04,253.03 617.16,256.30 618.50,256.40 C632.62,257.44 651.54,256.42 665.70,256.60 C665.82,256.60 665.70,256.88 665.70,257.00 Z" fill="url(#g12)" stroke="#50b386" stroke-width="0.9" stroke-linejoin="round"/>
<defs><linearGradient id="g13" gradientUnits="userSpaceOnUse" x1="0" y1="269" x2="0" y2="298"><stop offset="0" stop-color="#8a8a8a"/><stop offset="1" stop-color="#d2d2d2"/></linearGradient></defs>
<path d="M487.30,298.40 C511.36,298.40 543.48,299.81 567.50,298.40 C569.00,298.31 568.61,295.07 568.90,293.60 C569.46,290.74 569.68,286.84 570.30,284.00 C570.71,282.12 571.44,279.62 572.30,277.90 C572.70,277.10 573.63,275.36 574.40,275.80 C575.53,276.44 575.45,278.65 575.80,279.90 C576.26,281.53 576.00,284.11 577.10,285.40 C577.66,286.06 579.24,285.26 579.90,284.70 C580.80,283.93 581.46,282.40 581.90,281.30 C582.70,279.29 582.86,276.24 584.00,274.40 C584.30,273.91 584.97,276.27 585.30,275.80 C586.44,274.20 585.46,269.92 587.40,269.60 C589.14,269.31 588.66,273.55 589.50,275.10 C590.12,276.25 591.35,277.51 592.20,278.50 C592.77,279.16 593.86,281.40 594.20,280.60 C595.60,277.35 593.55,271.23 596.30,269.00 C598.27,267.40 597.69,274.76 598.40,277.20 C598.71,278.25 598.69,281.02 599.70,280.60 C601.15,280.00 601.23,277.26 601.80,275.80 C602.40,274.26 602.22,269.69 603.60,270.60 C605.66,271.96 605.35,276.09 605.90,278.50 C606.64,281.77 607.29,286.20 607.90,289.50 C608.31,291.75 608.47,294.87 609.30,297.00 C609.49,297.50 610.49,297.66 611.00,297.50 C611.86,297.23 612.50,295.70 613.40,295.70 C614.35,295.70 615.06,297.35 616.00,297.50 C616.90,297.65 617.99,296.58 618.90,296.60 C619.88,296.62 621.02,297.57 622.00,297.60 C635.11,297.94 652.59,297.56 665.70,297.80 C665.88,297.80 665.70,298.22 665.70,298.40 Z" fill="url(#g13)" stroke="#555" stroke-width="0.9" stroke-linejoin="round"/>
<line x1="487.3" y1="215.6" x2="665.7" y2="215.6" stroke="#a82a2a" stroke-width="1.6" />
<line x1="487.3" y1="257.0" x2="665.7" y2="257.0" stroke="#1f5a40" stroke-width="1.6" />
<line x1="487.3" y1="298.8" x2="665.7" y2="298.8" stroke="#333" stroke-width="1.5" />
<line x1="487.3" y1="174.4" x2="665.7" y2="174.4" stroke="#383838" stroke-width="1.4"/>
<line x1="665.7" y1="173.8" x2="665.7" y2="299.40000000000003" stroke="#555" stroke-width="1.6"/>
<line x1="487.3" y1="173.8" x2="487.3" y2="299.40000000000003" stroke="#222" stroke-width="1.35"/>
<line x1="606.4" y1="174.4" x2="606.4" y2="299.8" stroke="#111" stroke-width="1.1" stroke-dasharray="2 2.05"/>
<line x1="487.3" y1="298.8" x2="487.3" y2="301.2" stroke="#1a1a1a" stroke-width="0.9" />
<line x1="502.17" y1="298.8" x2="502.17" y2="300.40000000000003" stroke="#1a1a1a" stroke-width="0.9" />
<line x1="517.04" y1="298.8" x2="517.04" y2="301.2" stroke="#1a1a1a" stroke-width="0.9" />
<line x1="531.91" y1="298.8" x2="531.91" y2="300.40000000000003" stroke="#1a1a1a" stroke-width="0.9" />
<line x1="546.78" y1="298.8" x2="546.78" y2="301.2" stroke="#1a1a1a" stroke-width="0.9" />
<line x1="561.65" y1="298.8" x2="561.65" y2="300.40000000000003" stroke="#1a1a1a" stroke-width="0.9" />
<line x1="576.52" y1="298.8" x2="576.52" y2="301.2" stroke="#1a1a1a" stroke-width="0.9" />
<line x1="591.39" y1="298.8" x2="591.39" y2="300.40000000000003" stroke="#1a1a1a" stroke-width="0.9" />
<line x1="606.26" y1="298.8" x2="606.26" y2="301.2" stroke="#1a1a1a" stroke-width="0.9" />
<line x1="621.13" y1="298.8" x2="621.13" y2="300.40000000000003" stroke="#1a1a1a" stroke-width="0.9" />
<line x1="636.0" y1="298.8" x2="636.0" y2="301.2" stroke="#1a1a1a" stroke-width="0.9" />
<line x1="650.87" y1="298.8" x2="650.87" y2="300.40000000000003" stroke="#1a1a1a" stroke-width="0.9" />
<line x1="665.74" y1="298.8" x2="665.74" y2="301.2" stroke="#1a1a1a" stroke-width="0.9" />
<text x="487.3" y="308.4" font-size="7.0" font-weight="bold" fill="#000" text-anchor="middle"  stroke="#000" stroke-width="0.25">-16</text>
<text x="517.03" y="308.4" font-size="7.0" font-weight="bold" fill="#000" text-anchor="middle"  stroke="#000" stroke-width="0.25">-12</text>
<text x="546.76" y="308.4" font-size="7.0" font-weight="bold" fill="#000" text-anchor="middle"  stroke="#000" stroke-width="0.25">-8</text>
<text x="576.49" y="308.4" font-size="7.0" font-weight="bold" fill="#000" text-anchor="middle"  stroke="#000" stroke-width="0.25">-4</text>
<text x="606.22" y="308.4" font-size="7.0" font-weight="bold" fill="#000" text-anchor="middle"  stroke="#000" stroke-width="0.25">0</text>
<text x="635.95" y="308.4" font-size="7.0" font-weight="bold" fill="#000" text-anchor="middle"  stroke="#000" stroke-width="0.25">4</text>
<text x="665.6800000000001" y="308.4" font-size="7.0" font-weight="bold" fill="#000" text-anchor="middle"  stroke="#000" stroke-width="0.25">8</text>
<text x="554.7" y="317.4" font-size="9.0" font-weight="bold" fill="#000" text-anchor="start"  stroke="#000" stroke-width="0.15">Energy (eV)</text>
<text x="482.4" y="240.3" font-size="9.0" font-weight="bold" fill="#000" text-anchor="middle" transform="rotate(-90 482.4 240.3)" stroke="#000" stroke-width="0.15">PDOS (a.u.)</text>
<text x="487.8" y="211.7" font-size="7.2" font-weight="bold" fill="#ff1a1a" stroke="#ff1a1a" stroke-width="0.25"><tspan font-style="italic">d</tspan><tspan font-size="4.8" dy="1.3">c</tspan><tspan dy="-1.3">= -3.611</tspan></text>
<text x="488.4" y="253.1" font-size="7.2" font-weight="bold" fill="#3aad7a" stroke="#3aad7a" stroke-width="0.25"><tspan font-style="italic">d</tspan><tspan font-size="4.8" dy="1.3">c</tspan><tspan dy="-1.3">= -3.529</tspan></text>
<text x="487.2" y="294.1" font-size="7.2" font-weight="bold" fill="#333" stroke="#333" stroke-width="0.25"><tspan font-style="italic">d</tspan><tspan font-size="4.8" dy="1.3">c</tspan><tspan dy="-1.3">= -2.283</tspan></text>
<text x="609.4" y="184.1" font-size="7.6" font-weight="bold" font-style="italic" fill="#111" stroke="#111" stroke-width="0.25">E<tspan font-size="5.32" dx="0.3" dy="1.67">F</tspan></text>
<text x="661.7" y="212.2" font-size="7.4" font-weight="bold" fill="#ff1a1a" text-anchor="end"  stroke="#ff1a1a" stroke-width="0.25">Au</text>
<text x="663.6" y="252.9" font-size="7.0" font-weight="bold" fill="#3aad7a" text-anchor="end" stroke="#3aad7a" stroke-width="0.25">Au@Au<tspan font-size="4.9" dy="1.3">3</tspan><tspan dy="-1.3">Pd</tspan></text>
<text x="662.0" y="295.0" font-size="7.2" font-weight="bold" fill="#333" text-anchor="end"  stroke="#333" stroke-width="0.25">Pd</text>
</svg></body></html>
